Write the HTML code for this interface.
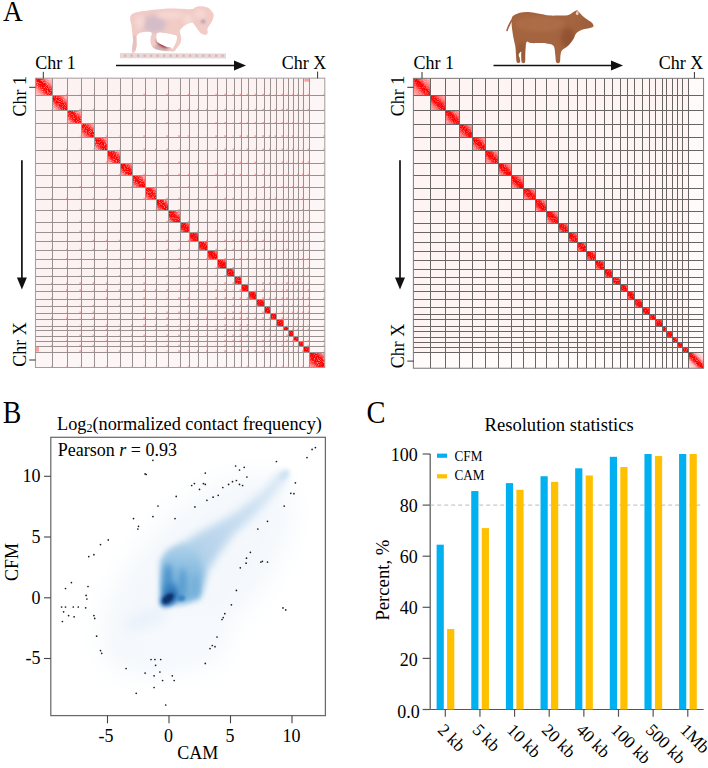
<!DOCTYPE html><html><head><meta charset="utf-8"><style>html,body{margin:0;padding:0;background:#fff;}svg{display:block;}text{font-family:"Liberation Serif",serif;fill:#000;}</style></head><body>
<svg width="708" height="768" viewBox="0 0 708 768">
<defs>
<linearGradient id="gL" x1="0" y1="1" x2="1" y2="0">
<stop offset="0" stop-color="#fbc0c0"/><stop offset="0.12" stop-color="#f88"/><stop offset="0.24" stop-color="#f33"/><stop offset="0.34" stop-color="#f00"/><stop offset="0.66" stop-color="#f00"/><stop offset="0.76" stop-color="#f33"/><stop offset="0.88" stop-color="#f88"/><stop offset="1" stop-color="#fbc0c0"/>
</linearGradient>
<linearGradient id="gR" x1="0" y1="1" x2="1" y2="0">
<stop offset="0" stop-color="#fde0e0"/><stop offset="0.3" stop-color="#fbb"/><stop offset="0.44" stop-color="#f55"/><stop offset="0.5" stop-color="#f00"/><stop offset="0.56" stop-color="#f55"/><stop offset="0.7" stop-color="#fbb"/><stop offset="1" stop-color="#fde0e0"/>
</linearGradient>
<linearGradient id="gRX" x1="0" y1="1" x2="1" y2="0">
<stop offset="0" stop-color="#fdf0f0"/><stop offset="0.4" stop-color="#fcd"/><stop offset="0.47" stop-color="#f44"/><stop offset="0.5" stop-color="#f00"/><stop offset="0.53" stop-color="#f44"/><stop offset="0.6" stop-color="#fcd"/><stop offset="1" stop-color="#fdf0f0"/>
</linearGradient>
<filter id="speck" x="0" y="0" width="100%" height="100%" filterUnits="objectBoundingBox"><feTurbulence type="fractalNoise" baseFrequency="0.9" numOctaves="2" seed="7" result="n"/><feColorMatrix in="n" type="matrix" values="0 0 0 0 1  0 0 0 0 0.85  0 0 0 0 0.85  0 0 0 -3.2 1.75" result="w"/><feComposite in="w" in2="SourceGraphic" operator="in"/></filter>
<filter id="b2" x="-50%" y="-50%" width="200%" height="200%"><feGaussianBlur stdDeviation="2"/></filter>
<filter id="b4" x="-50%" y="-50%" width="200%" height="200%"><feGaussianBlur stdDeviation="4"/></filter>
<filter id="b8" x="-50%" y="-50%" width="200%" height="200%"><feGaussianBlur stdDeviation="8"/></filter>
<filter id="b14" x="-50%" y="-50%" width="200%" height="200%"><feGaussianBlur stdDeviation="14"/></filter>
<filter id="b1" x="-50%" y="-50%" width="200%" height="200%"><feGaussianBlur stdDeviation="0.8"/></filter>
<marker id="ah" viewBox="0 0 12 10" refX="11" refY="5" markerWidth="12" markerHeight="10" markerUnits="userSpaceOnUse" orient="auto"><path d="M0,0 L12,5 L0,10 L3,5 Z" fill="#111"/></marker>
</defs>
<rect width="708" height="768" fill="#fff"/>
<text transform="translate(2.9,21) scale(0.9,1)" font-size="30.3">A</text>
<g transform="translate(35.45,78.16)">
<rect x="0" y="0" width="289.36" height="289.34" fill="#fdf2f2"/>
<path d="M15.6,107.9h1.8v1.8h-1.8zM15.6,119.5h1.8v1.8h-1.8zM15.6,161.5h1.8v1.8h-1.8zM15.6,170.5h1.8v1.8h-1.8zM15.6,179.9h1.8v1.8h-1.8zM15.6,204.1h1.8v1.8h-1.8zM15.6,211.1h1.8v1.8h-1.8zM15.6,219.0h1.8v1.8h-1.8zM15.6,239.2h1.8v1.8h-1.8zM15.6,250.7h1.8v1.8h-1.8zM15.6,261.5h1.8v1.8h-1.8zM15.6,266.5h1.8v1.8h-1.8zM15.6,287.4h1.8v1.8h-1.8zM30.6,15.6h1.8v1.8h-1.8zM30.6,70.3h1.8v1.8h-1.8zM30.6,119.5h1.8v1.8h-1.8zM30.6,170.5h1.8v1.8h-1.8zM30.6,179.9h1.8v1.8h-1.8zM30.6,188.8h1.8v1.8h-1.8zM30.6,196.9h1.8v1.8h-1.8zM30.6,204.1h1.8v1.8h-1.8zM30.6,211.1h1.8v1.8h-1.8zM30.6,226.7h1.8v1.8h-1.8zM30.6,239.2h1.8v1.8h-1.8zM30.6,246.0h1.8v1.8h-1.8zM30.6,256.4h1.8v1.8h-1.8zM30.6,261.5h1.8v1.8h-1.8zM30.6,266.5h1.8v1.8h-1.8zM30.6,287.4h1.8v1.8h-1.8zM43.9,30.5h1.8v1.8h-1.8zM43.9,83.3h1.8v1.8h-1.8zM43.9,107.9h1.8v1.8h-1.8zM43.9,130.9h1.8v1.8h-1.8zM43.9,142.7h1.8v1.8h-1.8zM43.9,152.3h1.8v1.8h-1.8zM43.9,170.5h1.8v1.8h-1.8zM43.9,204.1h1.8v1.8h-1.8zM43.9,211.1h1.8v1.8h-1.8zM43.9,233.4h1.8v1.8h-1.8zM43.9,256.4h1.8v1.8h-1.8zM43.9,266.5h1.8v1.8h-1.8zM43.9,272.1h1.8v1.8h-1.8zM57.1,30.5h1.8v1.8h-1.8zM57.1,83.3h1.8v1.8h-1.8zM57.1,95.5h1.8v1.8h-1.8zM57.1,107.9h1.8v1.8h-1.8zM57.1,119.5h1.8v1.8h-1.8zM57.1,130.9h1.8v1.8h-1.8zM57.1,161.5h1.8v1.8h-1.8zM57.1,170.5h1.8v1.8h-1.8zM57.1,196.9h1.8v1.8h-1.8zM57.1,204.1h1.8v1.8h-1.8zM57.1,226.7h1.8v1.8h-1.8zM57.1,233.4h1.8v1.8h-1.8zM57.1,239.2h1.8v1.8h-1.8zM57.1,250.7h1.8v1.8h-1.8zM57.1,256.4h1.8v1.8h-1.8zM57.1,266.5h1.8v1.8h-1.8zM70.3,43.9h1.8v1.8h-1.8zM70.3,57.1h1.8v1.8h-1.8zM70.3,83.3h1.8v1.8h-1.8zM70.3,107.9h1.8v1.8h-1.8zM70.3,119.5h1.8v1.8h-1.8zM70.3,161.5h1.8v1.8h-1.8zM70.3,170.5h1.8v1.8h-1.8zM70.3,188.8h1.8v1.8h-1.8zM70.3,196.9h1.8v1.8h-1.8zM70.3,204.1h1.8v1.8h-1.8zM70.3,211.1h1.8v1.8h-1.8zM70.3,219.0h1.8v1.8h-1.8zM70.3,246.0h1.8v1.8h-1.8zM70.3,250.7h1.8v1.8h-1.8zM70.3,256.4h1.8v1.8h-1.8zM70.3,261.5h1.8v1.8h-1.8zM70.3,287.4h1.8v1.8h-1.8zM83.3,95.5h1.8v1.8h-1.8zM83.3,119.5h1.8v1.8h-1.8zM83.3,130.9h1.8v1.8h-1.8zM83.3,161.5h1.8v1.8h-1.8zM83.3,196.9h1.8v1.8h-1.8zM83.3,211.1h1.8v1.8h-1.8zM83.3,226.7h1.8v1.8h-1.8zM83.3,250.7h1.8v1.8h-1.8zM83.3,272.1h1.8v1.8h-1.8zM95.5,107.9h1.8v1.8h-1.8zM95.5,142.7h1.8v1.8h-1.8zM95.5,179.9h1.8v1.8h-1.8zM95.5,211.1h1.8v1.8h-1.8zM95.5,246.0h1.8v1.8h-1.8zM95.5,250.7h1.8v1.8h-1.8zM95.5,256.4h1.8v1.8h-1.8zM95.5,266.5h1.8v1.8h-1.8zM107.9,15.6h1.8v1.8h-1.8zM107.9,30.5h1.8v1.8h-1.8zM107.9,43.9h1.8v1.8h-1.8zM107.9,57.1h1.8v1.8h-1.8zM107.9,70.3h1.8v1.8h-1.8zM107.9,83.3h1.8v1.8h-1.8zM107.9,95.5h1.8v1.8h-1.8zM107.9,119.5h1.8v1.8h-1.8zM107.9,130.9h1.8v1.8h-1.8zM107.9,142.7h1.8v1.8h-1.8zM107.9,152.3h1.8v1.8h-1.8zM107.9,179.9h1.8v1.8h-1.8zM107.9,196.9h1.8v1.8h-1.8zM107.9,204.1h1.8v1.8h-1.8zM107.9,211.1h1.8v1.8h-1.8zM107.9,219.0h1.8v1.8h-1.8zM107.9,226.7h1.8v1.8h-1.8zM107.9,239.2h1.8v1.8h-1.8zM107.9,246.0h1.8v1.8h-1.8zM107.9,256.4h1.8v1.8h-1.8zM107.9,266.5h1.8v1.8h-1.8zM119.5,30.5h1.8v1.8h-1.8zM119.5,70.3h1.8v1.8h-1.8zM119.5,83.3h1.8v1.8h-1.8zM119.5,161.5h1.8v1.8h-1.8zM119.5,179.9h1.8v1.8h-1.8zM119.5,188.8h1.8v1.8h-1.8zM119.5,211.1h1.8v1.8h-1.8zM119.5,233.4h1.8v1.8h-1.8zM119.5,239.2h1.8v1.8h-1.8zM119.5,246.0h1.8v1.8h-1.8zM119.5,250.7h1.8v1.8h-1.8zM119.5,261.5h1.8v1.8h-1.8zM130.9,15.6h1.8v1.8h-1.8zM130.9,43.9h1.8v1.8h-1.8zM130.9,57.1h1.8v1.8h-1.8zM130.9,70.3h1.8v1.8h-1.8zM130.9,95.5h1.8v1.8h-1.8zM130.9,107.9h1.8v1.8h-1.8zM130.9,119.5h1.8v1.8h-1.8zM130.9,142.7h1.8v1.8h-1.8zM130.9,161.5h1.8v1.8h-1.8zM130.9,170.5h1.8v1.8h-1.8zM130.9,196.9h1.8v1.8h-1.8zM130.9,211.1h1.8v1.8h-1.8zM130.9,233.4h1.8v1.8h-1.8zM130.9,239.2h1.8v1.8h-1.8zM130.9,246.0h1.8v1.8h-1.8zM130.9,256.4h1.8v1.8h-1.8zM130.9,266.5h1.8v1.8h-1.8zM142.7,30.5h1.8v1.8h-1.8zM142.7,57.1h1.8v1.8h-1.8zM142.7,83.3h1.8v1.8h-1.8zM142.7,95.5h1.8v1.8h-1.8zM142.7,119.5h1.8v1.8h-1.8zM142.7,130.9h1.8v1.8h-1.8zM142.7,170.5h1.8v1.8h-1.8zM142.7,179.9h1.8v1.8h-1.8zM142.7,188.8h1.8v1.8h-1.8zM142.7,219.0h1.8v1.8h-1.8zM142.7,233.4h1.8v1.8h-1.8zM142.7,256.4h1.8v1.8h-1.8zM142.7,266.5h1.8v1.8h-1.8zM142.7,272.1h1.8v1.8h-1.8zM152.3,15.6h1.8v1.8h-1.8zM152.3,30.5h1.8v1.8h-1.8zM152.3,57.1h1.8v1.8h-1.8zM152.3,95.5h1.8v1.8h-1.8zM152.3,107.9h1.8v1.8h-1.8zM152.3,142.7h1.8v1.8h-1.8zM152.3,161.5h1.8v1.8h-1.8zM152.3,179.9h1.8v1.8h-1.8zM152.3,188.8h1.8v1.8h-1.8zM152.3,196.9h1.8v1.8h-1.8zM152.3,219.0h1.8v1.8h-1.8zM152.3,226.7h1.8v1.8h-1.8zM152.3,250.7h1.8v1.8h-1.8zM152.3,287.4h1.8v1.8h-1.8zM161.5,30.5h1.8v1.8h-1.8zM161.5,83.3h1.8v1.8h-1.8zM161.5,95.5h1.8v1.8h-1.8zM161.5,119.5h1.8v1.8h-1.8zM161.5,142.7h1.8v1.8h-1.8zM161.5,152.3h1.8v1.8h-1.8zM161.5,179.9h1.8v1.8h-1.8zM161.5,188.8h1.8v1.8h-1.8zM161.5,196.9h1.8v1.8h-1.8zM161.5,204.1h1.8v1.8h-1.8zM161.5,211.1h1.8v1.8h-1.8zM161.5,239.2h1.8v1.8h-1.8zM161.5,246.0h1.8v1.8h-1.8zM161.5,250.7h1.8v1.8h-1.8zM161.5,261.5h1.8v1.8h-1.8zM161.5,272.1h1.8v1.8h-1.8zM161.5,287.4h1.8v1.8h-1.8zM170.6,30.5h1.8v1.8h-1.8zM170.6,107.9h1.8v1.8h-1.8zM170.6,130.9h1.8v1.8h-1.8zM170.6,161.5h1.8v1.8h-1.8zM170.6,179.9h1.8v1.8h-1.8zM170.6,188.8h1.8v1.8h-1.8zM170.6,204.1h1.8v1.8h-1.8zM170.6,226.7h1.8v1.8h-1.8zM170.6,239.2h1.8v1.8h-1.8zM170.6,246.0h1.8v1.8h-1.8zM170.6,256.4h1.8v1.8h-1.8zM170.6,266.5h1.8v1.8h-1.8zM170.6,272.1h1.8v1.8h-1.8zM179.9,15.6h1.8v1.8h-1.8zM179.9,43.9h1.8v1.8h-1.8zM179.9,57.1h1.8v1.8h-1.8zM179.9,95.5h1.8v1.8h-1.8zM179.9,107.9h1.8v1.8h-1.8zM179.9,152.3h1.8v1.8h-1.8zM179.9,170.5h1.8v1.8h-1.8zM179.9,188.8h1.8v1.8h-1.8zM179.9,196.9h1.8v1.8h-1.8zM179.9,211.1h1.8v1.8h-1.8zM179.9,219.0h1.8v1.8h-1.8zM179.9,226.7h1.8v1.8h-1.8zM179.9,250.7h1.8v1.8h-1.8zM188.8,15.6h1.8v1.8h-1.8zM188.8,30.5h1.8v1.8h-1.8zM188.8,43.9h1.8v1.8h-1.8zM188.8,57.1h1.8v1.8h-1.8zM188.8,70.3h1.8v1.8h-1.8zM188.8,95.5h1.8v1.8h-1.8zM188.8,119.5h1.8v1.8h-1.8zM188.8,130.9h1.8v1.8h-1.8zM188.8,161.5h1.8v1.8h-1.8zM188.8,170.5h1.8v1.8h-1.8zM188.8,179.9h1.8v1.8h-1.8zM188.8,196.9h1.8v1.8h-1.8zM188.8,204.1h1.8v1.8h-1.8zM188.8,211.1h1.8v1.8h-1.8zM188.8,219.0h1.8v1.8h-1.8zM188.8,233.4h1.8v1.8h-1.8zM188.8,239.2h1.8v1.8h-1.8zM188.8,246.0h1.8v1.8h-1.8zM188.8,250.7h1.8v1.8h-1.8zM188.8,256.4h1.8v1.8h-1.8zM188.8,261.5h1.8v1.8h-1.8zM188.8,266.5h1.8v1.8h-1.8zM188.8,272.1h1.8v1.8h-1.8zM196.9,15.6h1.8v1.8h-1.8zM196.9,70.3h1.8v1.8h-1.8zM196.9,95.5h1.8v1.8h-1.8zM196.9,119.5h1.8v1.8h-1.8zM196.9,152.3h1.8v1.8h-1.8zM196.9,161.5h1.8v1.8h-1.8zM196.9,170.5h1.8v1.8h-1.8zM196.9,179.9h1.8v1.8h-1.8zM196.9,188.8h1.8v1.8h-1.8zM196.9,204.1h1.8v1.8h-1.8zM196.9,219.0h1.8v1.8h-1.8zM196.9,226.7h1.8v1.8h-1.8zM196.9,233.4h1.8v1.8h-1.8zM196.9,239.2h1.8v1.8h-1.8zM196.9,256.4h1.8v1.8h-1.8zM196.9,261.5h1.8v1.8h-1.8zM204.1,15.6h1.8v1.8h-1.8zM204.1,43.9h1.8v1.8h-1.8zM204.1,57.1h1.8v1.8h-1.8zM204.1,83.3h1.8v1.8h-1.8zM204.1,95.5h1.8v1.8h-1.8zM204.1,142.7h1.8v1.8h-1.8zM204.1,152.3h1.8v1.8h-1.8zM204.1,161.5h1.8v1.8h-1.8zM204.1,179.9h1.8v1.8h-1.8zM204.1,196.9h1.8v1.8h-1.8zM204.1,211.1h1.8v1.8h-1.8zM204.1,219.0h1.8v1.8h-1.8zM204.1,226.7h1.8v1.8h-1.8zM204.1,233.4h1.8v1.8h-1.8zM204.1,239.2h1.8v1.8h-1.8zM204.1,246.0h1.8v1.8h-1.8zM204.1,250.7h1.8v1.8h-1.8zM204.1,256.4h1.8v1.8h-1.8zM204.1,261.5h1.8v1.8h-1.8zM204.1,272.1h1.8v1.8h-1.8zM211.1,15.6h1.8v1.8h-1.8zM211.1,43.9h1.8v1.8h-1.8zM211.1,57.1h1.8v1.8h-1.8zM211.1,70.3h1.8v1.8h-1.8zM211.1,130.9h1.8v1.8h-1.8zM211.1,142.7h1.8v1.8h-1.8zM211.1,161.5h1.8v1.8h-1.8zM211.1,179.9h1.8v1.8h-1.8zM211.1,219.0h1.8v1.8h-1.8zM211.1,226.7h1.8v1.8h-1.8zM211.1,239.2h1.8v1.8h-1.8zM211.1,246.0h1.8v1.8h-1.8zM211.1,250.7h1.8v1.8h-1.8zM211.1,256.4h1.8v1.8h-1.8zM211.1,272.1h1.8v1.8h-1.8zM211.1,287.4h1.8v1.8h-1.8zM219.0,15.6h1.8v1.8h-1.8zM219.0,30.5h1.8v1.8h-1.8zM219.0,43.9h1.8v1.8h-1.8zM219.0,57.1h1.8v1.8h-1.8zM219.0,83.3h1.8v1.8h-1.8zM219.0,95.5h1.8v1.8h-1.8zM219.0,119.5h1.8v1.8h-1.8zM219.0,130.9h1.8v1.8h-1.8zM219.0,142.7h1.8v1.8h-1.8zM219.0,152.3h1.8v1.8h-1.8zM219.0,161.5h1.8v1.8h-1.8zM219.0,170.5h1.8v1.8h-1.8zM219.0,179.9h1.8v1.8h-1.8zM219.0,239.2h1.8v1.8h-1.8zM219.0,272.1h1.8v1.8h-1.8zM226.7,15.6h1.8v1.8h-1.8zM226.7,30.5h1.8v1.8h-1.8zM226.7,43.9h1.8v1.8h-1.8zM226.7,57.1h1.8v1.8h-1.8zM226.7,70.3h1.8v1.8h-1.8zM226.7,95.5h1.8v1.8h-1.8zM226.7,107.9h1.8v1.8h-1.8zM226.7,142.7h1.8v1.8h-1.8zM226.7,152.3h1.8v1.8h-1.8zM226.7,161.5h1.8v1.8h-1.8zM226.7,170.5h1.8v1.8h-1.8zM226.7,204.1h1.8v1.8h-1.8zM226.7,211.1h1.8v1.8h-1.8zM226.7,219.0h1.8v1.8h-1.8zM226.7,233.4h1.8v1.8h-1.8zM226.7,239.2h1.8v1.8h-1.8zM226.7,261.5h1.8v1.8h-1.8zM226.7,272.1h1.8v1.8h-1.8zM233.4,15.6h1.8v1.8h-1.8zM233.4,57.1h1.8v1.8h-1.8zM233.4,70.3h1.8v1.8h-1.8zM233.4,95.5h1.8v1.8h-1.8zM233.4,107.9h1.8v1.8h-1.8zM233.4,119.5h1.8v1.8h-1.8zM233.4,179.9h1.8v1.8h-1.8zM233.4,196.9h1.8v1.8h-1.8zM233.4,204.1h1.8v1.8h-1.8zM233.4,219.0h1.8v1.8h-1.8zM233.4,239.2h1.8v1.8h-1.8zM233.4,250.7h1.8v1.8h-1.8zM233.4,256.4h1.8v1.8h-1.8zM233.4,261.5h1.8v1.8h-1.8zM233.4,266.5h1.8v1.8h-1.8zM233.4,287.4h1.8v1.8h-1.8zM239.2,30.5h1.8v1.8h-1.8zM239.2,43.9h1.8v1.8h-1.8zM239.2,57.1h1.8v1.8h-1.8zM239.2,119.5h1.8v1.8h-1.8zM239.2,130.9h1.8v1.8h-1.8zM239.2,152.3h1.8v1.8h-1.8zM239.2,161.5h1.8v1.8h-1.8zM239.2,170.5h1.8v1.8h-1.8zM239.2,179.9h1.8v1.8h-1.8zM239.2,204.1h1.8v1.8h-1.8zM239.2,219.0h1.8v1.8h-1.8zM239.2,256.4h1.8v1.8h-1.8zM239.2,261.5h1.8v1.8h-1.8zM239.2,287.4h1.8v1.8h-1.8zM246.1,15.6h1.8v1.8h-1.8zM246.1,30.5h1.8v1.8h-1.8zM246.1,43.9h1.8v1.8h-1.8zM246.1,57.1h1.8v1.8h-1.8zM246.1,70.3h1.8v1.8h-1.8zM246.1,83.3h1.8v1.8h-1.8zM246.1,107.9h1.8v1.8h-1.8zM246.1,188.8h1.8v1.8h-1.8zM246.1,219.0h1.8v1.8h-1.8zM246.1,226.7h1.8v1.8h-1.8zM246.1,233.4h1.8v1.8h-1.8zM246.1,239.2h1.8v1.8h-1.8zM246.1,266.5h1.8v1.8h-1.8zM246.1,287.4h1.8v1.8h-1.8zM250.7,30.5h1.8v1.8h-1.8zM250.7,142.7h1.8v1.8h-1.8zM250.7,170.5h1.8v1.8h-1.8zM250.7,196.9h1.8v1.8h-1.8zM250.7,204.1h1.8v1.8h-1.8zM250.7,211.1h1.8v1.8h-1.8zM250.7,219.0h1.8v1.8h-1.8zM250.7,256.4h1.8v1.8h-1.8zM250.7,261.5h1.8v1.8h-1.8zM256.5,15.6h1.8v1.8h-1.8zM256.5,43.9h1.8v1.8h-1.8zM256.5,57.1h1.8v1.8h-1.8zM256.5,70.3h1.8v1.8h-1.8zM256.5,107.9h1.8v1.8h-1.8zM256.5,142.7h1.8v1.8h-1.8zM256.5,152.3h1.8v1.8h-1.8zM256.5,196.9h1.8v1.8h-1.8zM256.5,204.1h1.8v1.8h-1.8zM256.5,226.7h1.8v1.8h-1.8zM256.5,233.4h1.8v1.8h-1.8zM256.5,250.7h1.8v1.8h-1.8zM256.5,261.5h1.8v1.8h-1.8zM256.5,266.5h1.8v1.8h-1.8zM261.5,15.6h1.8v1.8h-1.8zM261.5,30.5h1.8v1.8h-1.8zM261.5,95.5h1.8v1.8h-1.8zM261.5,107.9h1.8v1.8h-1.8zM261.5,142.7h1.8v1.8h-1.8zM261.5,179.9h1.8v1.8h-1.8zM261.5,204.1h1.8v1.8h-1.8zM261.5,211.1h1.8v1.8h-1.8zM261.5,219.0h1.8v1.8h-1.8zM261.5,226.7h1.8v1.8h-1.8zM261.5,233.4h1.8v1.8h-1.8zM261.5,239.2h1.8v1.8h-1.8zM261.5,250.7h1.8v1.8h-1.8zM266.5,83.3h1.8v1.8h-1.8zM266.5,95.5h1.8v1.8h-1.8zM266.5,107.9h1.8v1.8h-1.8zM266.5,119.5h1.8v1.8h-1.8zM266.5,130.9h1.8v1.8h-1.8zM266.5,142.7h1.8v1.8h-1.8zM266.5,170.5h1.8v1.8h-1.8zM266.5,179.9h1.8v1.8h-1.8zM266.5,196.9h1.8v1.8h-1.8zM266.5,204.1h1.8v1.8h-1.8zM266.5,219.0h1.8v1.8h-1.8zM266.5,233.4h1.8v1.8h-1.8zM266.5,250.7h1.8v1.8h-1.8zM266.5,272.1h1.8v1.8h-1.8zM266.5,287.4h1.8v1.8h-1.8zM272.2,15.6h1.8v1.8h-1.8zM272.2,30.5h1.8v1.8h-1.8zM272.2,70.3h1.8v1.8h-1.8zM272.2,83.3h1.8v1.8h-1.8zM272.2,95.5h1.8v1.8h-1.8zM272.2,142.7h1.8v1.8h-1.8zM272.2,152.3h1.8v1.8h-1.8zM272.2,179.9h1.8v1.8h-1.8zM272.2,188.8h1.8v1.8h-1.8zM272.2,196.9h1.8v1.8h-1.8zM272.2,211.1h1.8v1.8h-1.8zM272.2,219.0h1.8v1.8h-1.8zM272.2,226.7h1.8v1.8h-1.8zM272.2,233.4h1.8v1.8h-1.8zM272.2,250.7h1.8v1.8h-1.8zM272.2,261.5h1.8v1.8h-1.8zM272.2,266.5h1.8v1.8h-1.8zM287.5,15.6h1.8v1.8h-1.8zM287.5,43.9h1.8v1.8h-1.8zM287.5,57.1h1.8v1.8h-1.8zM287.5,70.3h1.8v1.8h-1.8zM287.5,83.3h1.8v1.8h-1.8zM287.5,95.5h1.8v1.8h-1.8zM287.5,119.5h1.8v1.8h-1.8zM287.5,130.9h1.8v1.8h-1.8zM287.5,152.3h1.8v1.8h-1.8zM287.5,161.5h1.8v1.8h-1.8zM287.5,170.5h1.8v1.8h-1.8zM287.5,179.9h1.8v1.8h-1.8zM287.5,211.1h1.8v1.8h-1.8zM287.5,219.0h1.8v1.8h-1.8zM287.5,233.4h1.8v1.8h-1.8zM287.5,261.5h1.8v1.8h-1.8zM287.5,266.5h1.8v1.8h-1.8z" fill="#f44" opacity="0.45"/>
<path d="M15.6,30.5h1.8v1.8h-1.8zM15.6,43.9h1.8v1.8h-1.8zM15.6,57.1h1.8v1.8h-1.8zM15.6,70.3h1.8v1.8h-1.8zM15.6,83.3h1.8v1.8h-1.8zM15.6,95.5h1.8v1.8h-1.8zM15.6,130.9h1.8v1.8h-1.8zM15.6,142.7h1.8v1.8h-1.8zM15.6,152.3h1.8v1.8h-1.8zM15.6,188.8h1.8v1.8h-1.8zM15.6,196.9h1.8v1.8h-1.8zM15.6,226.7h1.8v1.8h-1.8zM15.6,233.4h1.8v1.8h-1.8zM15.6,246.0h1.8v1.8h-1.8zM15.6,256.4h1.8v1.8h-1.8zM15.6,272.1h1.8v1.8h-1.8zM30.6,43.9h1.8v1.8h-1.8zM30.6,57.1h1.8v1.8h-1.8zM30.6,83.3h1.8v1.8h-1.8zM30.6,95.5h1.8v1.8h-1.8zM30.6,107.9h1.8v1.8h-1.8zM30.6,130.9h1.8v1.8h-1.8zM30.6,142.7h1.8v1.8h-1.8zM30.6,152.3h1.8v1.8h-1.8zM30.6,161.5h1.8v1.8h-1.8zM30.6,219.0h1.8v1.8h-1.8zM30.6,233.4h1.8v1.8h-1.8zM30.6,250.7h1.8v1.8h-1.8zM30.6,272.1h1.8v1.8h-1.8zM43.9,15.6h1.8v1.8h-1.8zM43.9,57.1h1.8v1.8h-1.8zM43.9,70.3h1.8v1.8h-1.8zM43.9,95.5h1.8v1.8h-1.8zM43.9,119.5h1.8v1.8h-1.8zM43.9,161.5h1.8v1.8h-1.8zM43.9,179.9h1.8v1.8h-1.8zM43.9,188.8h1.8v1.8h-1.8zM43.9,196.9h1.8v1.8h-1.8zM43.9,219.0h1.8v1.8h-1.8zM43.9,226.7h1.8v1.8h-1.8zM43.9,239.2h1.8v1.8h-1.8zM43.9,246.0h1.8v1.8h-1.8zM43.9,250.7h1.8v1.8h-1.8zM43.9,261.5h1.8v1.8h-1.8zM43.9,287.4h1.8v1.8h-1.8zM57.1,15.6h1.8v1.8h-1.8zM57.1,43.9h1.8v1.8h-1.8zM57.1,70.3h1.8v1.8h-1.8zM57.1,142.7h1.8v1.8h-1.8zM57.1,152.3h1.8v1.8h-1.8zM57.1,179.9h1.8v1.8h-1.8zM57.1,188.8h1.8v1.8h-1.8zM57.1,211.1h1.8v1.8h-1.8zM57.1,219.0h1.8v1.8h-1.8zM57.1,246.0h1.8v1.8h-1.8zM57.1,261.5h1.8v1.8h-1.8zM57.1,272.1h1.8v1.8h-1.8zM57.1,287.4h1.8v1.8h-1.8zM70.3,15.6h1.8v1.8h-1.8zM70.3,30.5h1.8v1.8h-1.8zM70.3,95.5h1.8v1.8h-1.8zM70.3,130.9h1.8v1.8h-1.8zM70.3,142.7h1.8v1.8h-1.8zM70.3,152.3h1.8v1.8h-1.8zM70.3,179.9h1.8v1.8h-1.8zM70.3,226.7h1.8v1.8h-1.8zM70.3,233.4h1.8v1.8h-1.8zM70.3,239.2h1.8v1.8h-1.8zM70.3,266.5h1.8v1.8h-1.8zM70.3,272.1h1.8v1.8h-1.8zM83.3,15.6h1.8v1.8h-1.8zM83.3,30.5h1.8v1.8h-1.8zM83.3,43.9h1.8v1.8h-1.8zM83.3,57.1h1.8v1.8h-1.8zM83.3,70.3h1.8v1.8h-1.8zM83.3,107.9h1.8v1.8h-1.8zM83.3,142.7h1.8v1.8h-1.8zM83.3,152.3h1.8v1.8h-1.8zM83.3,170.5h1.8v1.8h-1.8zM83.3,179.9h1.8v1.8h-1.8zM83.3,188.8h1.8v1.8h-1.8zM83.3,204.1h1.8v1.8h-1.8zM83.3,219.0h1.8v1.8h-1.8zM83.3,233.4h1.8v1.8h-1.8zM83.3,239.2h1.8v1.8h-1.8zM83.3,246.0h1.8v1.8h-1.8zM83.3,256.4h1.8v1.8h-1.8zM83.3,261.5h1.8v1.8h-1.8zM83.3,266.5h1.8v1.8h-1.8zM83.3,287.4h1.8v1.8h-1.8zM95.5,15.6h1.8v1.8h-1.8zM95.5,30.5h1.8v1.8h-1.8zM95.5,43.9h1.8v1.8h-1.8zM95.5,57.1h1.8v1.8h-1.8zM95.5,70.3h1.8v1.8h-1.8zM95.5,83.3h1.8v1.8h-1.8zM95.5,119.5h1.8v1.8h-1.8zM95.5,130.9h1.8v1.8h-1.8zM95.5,152.3h1.8v1.8h-1.8zM95.5,161.5h1.8v1.8h-1.8zM95.5,170.5h1.8v1.8h-1.8zM95.5,188.8h1.8v1.8h-1.8zM95.5,196.9h1.8v1.8h-1.8zM95.5,204.1h1.8v1.8h-1.8zM95.5,219.0h1.8v1.8h-1.8zM95.5,226.7h1.8v1.8h-1.8zM95.5,233.4h1.8v1.8h-1.8zM95.5,239.2h1.8v1.8h-1.8zM95.5,261.5h1.8v1.8h-1.8zM95.5,272.1h1.8v1.8h-1.8zM95.5,287.4h1.8v1.8h-1.8zM107.9,161.5h1.8v1.8h-1.8zM107.9,170.5h1.8v1.8h-1.8zM107.9,188.8h1.8v1.8h-1.8zM107.9,233.4h1.8v1.8h-1.8zM107.9,250.7h1.8v1.8h-1.8zM107.9,261.5h1.8v1.8h-1.8zM107.9,272.1h1.8v1.8h-1.8zM107.9,287.4h1.8v1.8h-1.8zM119.5,15.6h1.8v1.8h-1.8zM119.5,43.9h1.8v1.8h-1.8zM119.5,57.1h1.8v1.8h-1.8zM119.5,95.5h1.8v1.8h-1.8zM119.5,107.9h1.8v1.8h-1.8zM119.5,130.9h1.8v1.8h-1.8zM119.5,142.7h1.8v1.8h-1.8zM119.5,152.3h1.8v1.8h-1.8zM119.5,170.5h1.8v1.8h-1.8zM119.5,196.9h1.8v1.8h-1.8zM119.5,204.1h1.8v1.8h-1.8zM119.5,219.0h1.8v1.8h-1.8zM119.5,226.7h1.8v1.8h-1.8zM119.5,256.4h1.8v1.8h-1.8zM119.5,266.5h1.8v1.8h-1.8zM119.5,272.1h1.8v1.8h-1.8zM119.5,287.4h1.8v1.8h-1.8zM130.9,30.5h1.8v1.8h-1.8zM130.9,83.3h1.8v1.8h-1.8zM130.9,152.3h1.8v1.8h-1.8zM130.9,179.9h1.8v1.8h-1.8zM130.9,188.8h1.8v1.8h-1.8zM130.9,204.1h1.8v1.8h-1.8zM130.9,219.0h1.8v1.8h-1.8zM130.9,226.7h1.8v1.8h-1.8zM130.9,250.7h1.8v1.8h-1.8zM130.9,261.5h1.8v1.8h-1.8zM130.9,272.1h1.8v1.8h-1.8zM130.9,287.4h1.8v1.8h-1.8zM142.7,15.6h1.8v1.8h-1.8zM142.7,43.9h1.8v1.8h-1.8zM142.7,70.3h1.8v1.8h-1.8zM142.7,107.9h1.8v1.8h-1.8zM142.7,152.3h1.8v1.8h-1.8zM142.7,161.5h1.8v1.8h-1.8zM142.7,196.9h1.8v1.8h-1.8zM142.7,204.1h1.8v1.8h-1.8zM142.7,211.1h1.8v1.8h-1.8zM142.7,226.7h1.8v1.8h-1.8zM142.7,239.2h1.8v1.8h-1.8zM142.7,246.0h1.8v1.8h-1.8zM142.7,250.7h1.8v1.8h-1.8zM142.7,261.5h1.8v1.8h-1.8zM142.7,287.4h1.8v1.8h-1.8zM152.3,43.9h1.8v1.8h-1.8zM152.3,70.3h1.8v1.8h-1.8zM152.3,83.3h1.8v1.8h-1.8zM152.3,119.5h1.8v1.8h-1.8zM152.3,130.9h1.8v1.8h-1.8zM152.3,170.5h1.8v1.8h-1.8zM152.3,204.1h1.8v1.8h-1.8zM152.3,211.1h1.8v1.8h-1.8zM152.3,233.4h1.8v1.8h-1.8zM152.3,239.2h1.8v1.8h-1.8zM152.3,246.0h1.8v1.8h-1.8zM152.3,256.4h1.8v1.8h-1.8zM152.3,261.5h1.8v1.8h-1.8zM152.3,266.5h1.8v1.8h-1.8zM152.3,272.1h1.8v1.8h-1.8zM161.5,15.6h1.8v1.8h-1.8zM161.5,43.9h1.8v1.8h-1.8zM161.5,57.1h1.8v1.8h-1.8zM161.5,70.3h1.8v1.8h-1.8zM161.5,107.9h1.8v1.8h-1.8zM161.5,130.9h1.8v1.8h-1.8zM161.5,170.5h1.8v1.8h-1.8zM161.5,219.0h1.8v1.8h-1.8zM161.5,226.7h1.8v1.8h-1.8zM161.5,233.4h1.8v1.8h-1.8zM161.5,256.4h1.8v1.8h-1.8zM161.5,266.5h1.8v1.8h-1.8zM170.6,15.6h1.8v1.8h-1.8zM170.6,43.9h1.8v1.8h-1.8zM170.6,57.1h1.8v1.8h-1.8zM170.6,70.3h1.8v1.8h-1.8zM170.6,83.3h1.8v1.8h-1.8zM170.6,95.5h1.8v1.8h-1.8zM170.6,119.5h1.8v1.8h-1.8zM170.6,142.7h1.8v1.8h-1.8zM170.6,152.3h1.8v1.8h-1.8zM170.6,196.9h1.8v1.8h-1.8zM170.6,211.1h1.8v1.8h-1.8zM170.6,219.0h1.8v1.8h-1.8zM170.6,233.4h1.8v1.8h-1.8zM170.6,250.7h1.8v1.8h-1.8zM170.6,261.5h1.8v1.8h-1.8zM170.6,287.4h1.8v1.8h-1.8zM179.9,30.5h1.8v1.8h-1.8zM179.9,70.3h1.8v1.8h-1.8zM179.9,83.3h1.8v1.8h-1.8zM179.9,119.5h1.8v1.8h-1.8zM179.9,130.9h1.8v1.8h-1.8zM179.9,142.7h1.8v1.8h-1.8zM179.9,161.5h1.8v1.8h-1.8zM179.9,204.1h1.8v1.8h-1.8zM179.9,233.4h1.8v1.8h-1.8zM179.9,239.2h1.8v1.8h-1.8zM179.9,246.0h1.8v1.8h-1.8zM179.9,256.4h1.8v1.8h-1.8zM179.9,261.5h1.8v1.8h-1.8zM179.9,266.5h1.8v1.8h-1.8zM179.9,272.1h1.8v1.8h-1.8zM179.9,287.4h1.8v1.8h-1.8zM188.8,83.3h1.8v1.8h-1.8zM188.8,107.9h1.8v1.8h-1.8zM188.8,142.7h1.8v1.8h-1.8zM188.8,152.3h1.8v1.8h-1.8zM188.8,226.7h1.8v1.8h-1.8zM188.8,287.4h1.8v1.8h-1.8zM196.9,30.5h1.8v1.8h-1.8zM196.9,43.9h1.8v1.8h-1.8zM196.9,57.1h1.8v1.8h-1.8zM196.9,83.3h1.8v1.8h-1.8zM196.9,107.9h1.8v1.8h-1.8zM196.9,130.9h1.8v1.8h-1.8zM196.9,142.7h1.8v1.8h-1.8zM196.9,211.1h1.8v1.8h-1.8zM196.9,246.0h1.8v1.8h-1.8zM196.9,250.7h1.8v1.8h-1.8zM196.9,266.5h1.8v1.8h-1.8zM196.9,272.1h1.8v1.8h-1.8zM196.9,287.4h1.8v1.8h-1.8zM204.1,30.5h1.8v1.8h-1.8zM204.1,70.3h1.8v1.8h-1.8zM204.1,107.9h1.8v1.8h-1.8zM204.1,119.5h1.8v1.8h-1.8zM204.1,130.9h1.8v1.8h-1.8zM204.1,170.5h1.8v1.8h-1.8zM204.1,188.8h1.8v1.8h-1.8zM204.1,266.5h1.8v1.8h-1.8zM204.1,287.4h1.8v1.8h-1.8zM211.1,30.5h1.8v1.8h-1.8zM211.1,83.3h1.8v1.8h-1.8zM211.1,95.5h1.8v1.8h-1.8zM211.1,107.9h1.8v1.8h-1.8zM211.1,119.5h1.8v1.8h-1.8zM211.1,152.3h1.8v1.8h-1.8zM211.1,170.5h1.8v1.8h-1.8zM211.1,188.8h1.8v1.8h-1.8zM211.1,196.9h1.8v1.8h-1.8zM211.1,204.1h1.8v1.8h-1.8zM211.1,233.4h1.8v1.8h-1.8zM211.1,261.5h1.8v1.8h-1.8zM211.1,266.5h1.8v1.8h-1.8zM219.0,70.3h1.8v1.8h-1.8zM219.0,107.9h1.8v1.8h-1.8zM219.0,188.8h1.8v1.8h-1.8zM219.0,196.9h1.8v1.8h-1.8zM219.0,204.1h1.8v1.8h-1.8zM219.0,211.1h1.8v1.8h-1.8zM219.0,226.7h1.8v1.8h-1.8zM219.0,233.4h1.8v1.8h-1.8zM219.0,246.0h1.8v1.8h-1.8zM219.0,250.7h1.8v1.8h-1.8zM219.0,256.4h1.8v1.8h-1.8zM219.0,261.5h1.8v1.8h-1.8zM219.0,266.5h1.8v1.8h-1.8zM219.0,287.4h1.8v1.8h-1.8zM226.7,83.3h1.8v1.8h-1.8zM226.7,119.5h1.8v1.8h-1.8zM226.7,130.9h1.8v1.8h-1.8zM226.7,179.9h1.8v1.8h-1.8zM226.7,188.8h1.8v1.8h-1.8zM226.7,196.9h1.8v1.8h-1.8zM226.7,246.0h1.8v1.8h-1.8zM226.7,250.7h1.8v1.8h-1.8zM226.7,256.4h1.8v1.8h-1.8zM226.7,266.5h1.8v1.8h-1.8zM226.7,287.4h1.8v1.8h-1.8zM233.4,30.5h1.8v1.8h-1.8zM233.4,43.9h1.8v1.8h-1.8zM233.4,83.3h1.8v1.8h-1.8zM233.4,130.9h1.8v1.8h-1.8zM233.4,142.7h1.8v1.8h-1.8zM233.4,152.3h1.8v1.8h-1.8zM233.4,161.5h1.8v1.8h-1.8zM233.4,170.5h1.8v1.8h-1.8zM233.4,188.8h1.8v1.8h-1.8zM233.4,211.1h1.8v1.8h-1.8zM233.4,226.7h1.8v1.8h-1.8zM233.4,246.0h1.8v1.8h-1.8zM233.4,272.1h1.8v1.8h-1.8zM239.2,15.6h1.8v1.8h-1.8zM239.2,70.3h1.8v1.8h-1.8zM239.2,83.3h1.8v1.8h-1.8zM239.2,95.5h1.8v1.8h-1.8zM239.2,107.9h1.8v1.8h-1.8zM239.2,142.7h1.8v1.8h-1.8zM239.2,188.8h1.8v1.8h-1.8zM239.2,196.9h1.8v1.8h-1.8zM239.2,211.1h1.8v1.8h-1.8zM239.2,226.7h1.8v1.8h-1.8zM239.2,233.4h1.8v1.8h-1.8zM239.2,246.0h1.8v1.8h-1.8zM239.2,250.7h1.8v1.8h-1.8zM239.2,266.5h1.8v1.8h-1.8zM239.2,272.1h1.8v1.8h-1.8zM246.1,95.5h1.8v1.8h-1.8zM246.1,119.5h1.8v1.8h-1.8zM246.1,130.9h1.8v1.8h-1.8zM246.1,142.7h1.8v1.8h-1.8zM246.1,152.3h1.8v1.8h-1.8zM246.1,161.5h1.8v1.8h-1.8zM246.1,170.5h1.8v1.8h-1.8zM246.1,179.9h1.8v1.8h-1.8zM246.1,196.9h1.8v1.8h-1.8zM246.1,204.1h1.8v1.8h-1.8zM246.1,211.1h1.8v1.8h-1.8zM246.1,250.7h1.8v1.8h-1.8zM246.1,256.4h1.8v1.8h-1.8zM246.1,261.5h1.8v1.8h-1.8zM246.1,272.1h1.8v1.8h-1.8zM250.7,15.6h1.8v1.8h-1.8zM250.7,43.9h1.8v1.8h-1.8zM250.7,57.1h1.8v1.8h-1.8zM250.7,70.3h1.8v1.8h-1.8zM250.7,83.3h1.8v1.8h-1.8zM250.7,95.5h1.8v1.8h-1.8zM250.7,107.9h1.8v1.8h-1.8zM250.7,119.5h1.8v1.8h-1.8zM250.7,130.9h1.8v1.8h-1.8zM250.7,152.3h1.8v1.8h-1.8zM250.7,161.5h1.8v1.8h-1.8zM250.7,179.9h1.8v1.8h-1.8zM250.7,188.8h1.8v1.8h-1.8zM250.7,226.7h1.8v1.8h-1.8zM250.7,233.4h1.8v1.8h-1.8zM250.7,239.2h1.8v1.8h-1.8zM250.7,246.0h1.8v1.8h-1.8zM250.7,266.5h1.8v1.8h-1.8zM250.7,272.1h1.8v1.8h-1.8zM250.7,287.4h1.8v1.8h-1.8zM256.5,30.5h1.8v1.8h-1.8zM256.5,83.3h1.8v1.8h-1.8zM256.5,95.5h1.8v1.8h-1.8zM256.5,119.5h1.8v1.8h-1.8zM256.5,130.9h1.8v1.8h-1.8zM256.5,161.5h1.8v1.8h-1.8zM256.5,170.5h1.8v1.8h-1.8zM256.5,179.9h1.8v1.8h-1.8zM256.5,188.8h1.8v1.8h-1.8zM256.5,211.1h1.8v1.8h-1.8zM256.5,219.0h1.8v1.8h-1.8zM256.5,239.2h1.8v1.8h-1.8zM256.5,246.0h1.8v1.8h-1.8zM256.5,272.1h1.8v1.8h-1.8zM256.5,287.4h1.8v1.8h-1.8zM261.5,43.9h1.8v1.8h-1.8zM261.5,57.1h1.8v1.8h-1.8zM261.5,70.3h1.8v1.8h-1.8zM261.5,83.3h1.8v1.8h-1.8zM261.5,119.5h1.8v1.8h-1.8zM261.5,130.9h1.8v1.8h-1.8zM261.5,152.3h1.8v1.8h-1.8zM261.5,161.5h1.8v1.8h-1.8zM261.5,170.5h1.8v1.8h-1.8zM261.5,188.8h1.8v1.8h-1.8zM261.5,196.9h1.8v1.8h-1.8zM261.5,246.0h1.8v1.8h-1.8zM261.5,256.4h1.8v1.8h-1.8zM261.5,266.5h1.8v1.8h-1.8zM261.5,272.1h1.8v1.8h-1.8zM261.5,287.4h1.8v1.8h-1.8zM266.5,15.6h1.8v1.8h-1.8zM266.5,30.5h1.8v1.8h-1.8zM266.5,43.9h1.8v1.8h-1.8zM266.5,57.1h1.8v1.8h-1.8zM266.5,70.3h1.8v1.8h-1.8zM266.5,152.3h1.8v1.8h-1.8zM266.5,161.5h1.8v1.8h-1.8zM266.5,188.8h1.8v1.8h-1.8zM266.5,211.1h1.8v1.8h-1.8zM266.5,226.7h1.8v1.8h-1.8zM266.5,239.2h1.8v1.8h-1.8zM266.5,246.0h1.8v1.8h-1.8zM266.5,256.4h1.8v1.8h-1.8zM266.5,261.5h1.8v1.8h-1.8zM272.2,43.9h1.8v1.8h-1.8zM272.2,57.1h1.8v1.8h-1.8zM272.2,107.9h1.8v1.8h-1.8zM272.2,119.5h1.8v1.8h-1.8zM272.2,130.9h1.8v1.8h-1.8zM272.2,161.5h1.8v1.8h-1.8zM272.2,170.5h1.8v1.8h-1.8zM272.2,204.1h1.8v1.8h-1.8zM272.2,239.2h1.8v1.8h-1.8zM272.2,246.0h1.8v1.8h-1.8zM272.2,256.4h1.8v1.8h-1.8zM272.2,287.4h1.8v1.8h-1.8zM287.5,30.5h1.8v1.8h-1.8zM287.5,107.9h1.8v1.8h-1.8zM287.5,142.7h1.8v1.8h-1.8zM287.5,188.8h1.8v1.8h-1.8zM287.5,196.9h1.8v1.8h-1.8zM287.5,204.1h1.8v1.8h-1.8zM287.5,226.7h1.8v1.8h-1.8zM287.5,239.2h1.8v1.8h-1.8zM287.5,246.0h1.8v1.8h-1.8zM287.5,250.7h1.8v1.8h-1.8zM287.5,256.4h1.8v1.8h-1.8zM287.5,272.1h1.8v1.8h-1.8z" fill="#f55" opacity="0.2"/>
<rect x="274.06" y="0" width="15.30" height="274.04" fill="#fff" opacity="0.3"/>
<rect x="268.93" y="0.5" width="4.63" height="3" fill="#f66" opacity="0.6"/>
<rect x="0.5" y="268.91" width="3" height="4.63" fill="#f66" opacity="0.6"/>
<rect x="0" y="274.04" width="274.06" height="15.30" fill="#fff" opacity="0.3"/>
<linearGradient id="gL0" x1="0" y1="1" x2="1" y2="0"><stop offset="0.000" stop-color="#fcc"/><stop offset="0.168" stop-color="#faa"/><stop offset="0.265" stop-color="#f77"/><stop offset="0.346" stop-color="#f33"/><stop offset="0.419" stop-color="#f00"/><stop offset="0.500" stop-color="#f00"/><stop offset="0.500" stop-color="#f00"/><stop offset="0.581" stop-color="#f00"/><stop offset="0.654" stop-color="#f33"/><stop offset="0.735" stop-color="#f77"/><stop offset="0.832" stop-color="#faa"/><stop offset="1.000" stop-color="#fcc"/></linearGradient>
<rect x="0.00" y="0.00" width="17.45" height="17.45" fill="url(#gL0)"/>
<rect x="0.00" y="0.00" width="17.45" height="17.45" fill="#fff" filter="url(#speck)" opacity="0.55"/>
<linearGradient id="gL1" x1="0" y1="1" x2="1" y2="0"><stop offset="0.000" stop-color="#fcc"/><stop offset="0.113" stop-color="#faa"/><stop offset="0.227" stop-color="#f77"/><stop offset="0.321" stop-color="#f33"/><stop offset="0.406" stop-color="#f00"/><stop offset="0.500" stop-color="#f00"/><stop offset="0.500" stop-color="#f00"/><stop offset="0.594" stop-color="#f00"/><stop offset="0.679" stop-color="#f33"/><stop offset="0.773" stop-color="#f77"/><stop offset="0.887" stop-color="#faa"/><stop offset="1.000" stop-color="#fcc"/></linearGradient>
<rect x="17.45" y="17.45" width="15.00" height="15.00" fill="url(#gL1)"/>
<rect x="17.45" y="17.45" width="15.00" height="15.00" fill="#fff" filter="url(#speck)" opacity="0.55"/>
<linearGradient id="gL2" x1="0" y1="1" x2="1" y2="0"><stop offset="0.000" stop-color="#fcc"/><stop offset="0.065" stop-color="#faa"/><stop offset="0.192" stop-color="#f77"/><stop offset="0.298" stop-color="#f33"/><stop offset="0.394" stop-color="#f00"/><stop offset="0.500" stop-color="#f00"/><stop offset="0.500" stop-color="#f00"/><stop offset="0.606" stop-color="#f00"/><stop offset="0.702" stop-color="#f33"/><stop offset="0.808" stop-color="#f77"/><stop offset="0.935" stop-color="#faa"/><stop offset="1.000" stop-color="#fcc"/></linearGradient>
<rect x="32.45" y="32.45" width="13.32" height="13.32" fill="url(#gL2)"/>
<rect x="32.45" y="32.45" width="13.32" height="13.32" fill="#fff" filter="url(#speck)" opacity="0.55"/>
<linearGradient id="gL3" x1="0" y1="1" x2="1" y2="0"><stop offset="0.000" stop-color="#fcc"/><stop offset="0.061" stop-color="#faa"/><stop offset="0.190" stop-color="#f77"/><stop offset="0.297" stop-color="#f33"/><stop offset="0.393" stop-color="#f00"/><stop offset="0.500" stop-color="#f00"/><stop offset="0.500" stop-color="#f00"/><stop offset="0.607" stop-color="#f00"/><stop offset="0.703" stop-color="#f33"/><stop offset="0.810" stop-color="#f77"/><stop offset="0.939" stop-color="#faa"/><stop offset="1.000" stop-color="#fcc"/></linearGradient>
<rect x="45.77" y="45.77" width="13.21" height="13.21" fill="url(#gL3)"/>
<rect x="45.77" y="45.77" width="13.21" height="13.21" fill="#fff" filter="url(#speck)" opacity="0.55"/>
<linearGradient id="gL4" x1="0" y1="1" x2="1" y2="0"><stop offset="0.000" stop-color="#fcc"/><stop offset="0.061" stop-color="#faa"/><stop offset="0.190" stop-color="#f77"/><stop offset="0.297" stop-color="#f33"/><stop offset="0.393" stop-color="#f00"/><stop offset="0.500" stop-color="#f00"/><stop offset="0.500" stop-color="#f00"/><stop offset="0.607" stop-color="#f00"/><stop offset="0.703" stop-color="#f33"/><stop offset="0.810" stop-color="#f77"/><stop offset="0.939" stop-color="#faa"/><stop offset="1.000" stop-color="#fcc"/></linearGradient>
<rect x="58.98" y="58.98" width="13.22" height="13.22" fill="url(#gL4)"/>
<rect x="58.98" y="58.98" width="13.22" height="13.22" fill="#fff" filter="url(#speck)" opacity="0.55"/>
<linearGradient id="gL5" x1="0" y1="1" x2="1" y2="0"><stop offset="0.000" stop-color="#fcc"/><stop offset="0.053" stop-color="#faa"/><stop offset="0.184" stop-color="#f77"/><stop offset="0.293" stop-color="#f33"/><stop offset="0.391" stop-color="#f00"/><stop offset="0.500" stop-color="#f00"/><stop offset="0.500" stop-color="#f00"/><stop offset="0.609" stop-color="#f00"/><stop offset="0.707" stop-color="#f33"/><stop offset="0.816" stop-color="#f77"/><stop offset="0.947" stop-color="#faa"/><stop offset="1.000" stop-color="#fcc"/></linearGradient>
<rect x="72.20" y="72.20" width="12.97" height="12.97" fill="url(#gL5)"/>
<rect x="72.20" y="72.20" width="12.97" height="12.97" fill="#fff" filter="url(#speck)" opacity="0.55"/>
<linearGradient id="gL6" x1="0" y1="1" x2="1" y2="0"><stop offset="0.000" stop-color="#fcc"/><stop offset="0.024" stop-color="#faa"/><stop offset="0.163" stop-color="#f77"/><stop offset="0.279" stop-color="#f33"/><stop offset="0.384" stop-color="#f00"/><stop offset="0.500" stop-color="#f00"/><stop offset="0.500" stop-color="#f00"/><stop offset="0.616" stop-color="#f00"/><stop offset="0.721" stop-color="#f33"/><stop offset="0.837" stop-color="#f77"/><stop offset="0.976" stop-color="#faa"/><stop offset="1.000" stop-color="#fcc"/></linearGradient>
<rect x="85.17" y="85.17" width="12.19" height="12.18" fill="url(#gL6)"/>
<rect x="85.17" y="85.17" width="12.19" height="12.18" fill="#fff" filter="url(#speck)" opacity="0.55"/>
<linearGradient id="gL7" x1="0" y1="1" x2="1" y2="0"><stop offset="0.000" stop-color="#fcc"/><stop offset="0.035" stop-color="#faa"/><stop offset="0.171" stop-color="#f77"/><stop offset="0.285" stop-color="#f33"/><stop offset="0.387" stop-color="#f00"/><stop offset="0.500" stop-color="#f00"/><stop offset="0.500" stop-color="#f00"/><stop offset="0.613" stop-color="#f00"/><stop offset="0.715" stop-color="#f33"/><stop offset="0.829" stop-color="#f77"/><stop offset="0.965" stop-color="#faa"/><stop offset="1.000" stop-color="#fcc"/></linearGradient>
<rect x="97.36" y="97.35" width="12.48" height="12.47" fill="url(#gL7)"/>
<rect x="97.36" y="97.35" width="12.48" height="12.47" fill="#fff" filter="url(#speck)" opacity="0.55"/>
<linearGradient id="gL8" x1="0" y1="1" x2="1" y2="0"><stop offset="0.000" stop-color="#fcc"/><stop offset="0.001" stop-color="#faa"/><stop offset="0.147" stop-color="#f77"/><stop offset="0.269" stop-color="#f33"/><stop offset="0.378" stop-color="#f00"/><stop offset="0.500" stop-color="#f00"/><stop offset="0.500" stop-color="#f00"/><stop offset="0.622" stop-color="#f00"/><stop offset="0.731" stop-color="#f33"/><stop offset="0.853" stop-color="#f77"/><stop offset="0.999" stop-color="#faa"/><stop offset="1.000" stop-color="#fcc"/></linearGradient>
<rect x="109.83" y="109.83" width="11.61" height="11.61" fill="url(#gL8)"/>
<rect x="109.83" y="109.83" width="11.61" height="11.61" fill="#fff" filter="url(#speck)" opacity="0.55"/>
<linearGradient id="gL9" x1="0" y1="1" x2="1" y2="0"><stop offset="0.000" stop-color="#faa"/><stop offset="0.000" stop-color="#fcc"/><stop offset="0.139" stop-color="#f77"/><stop offset="0.264" stop-color="#f33"/><stop offset="0.376" stop-color="#f00"/><stop offset="0.500" stop-color="#f00"/><stop offset="0.500" stop-color="#f00"/><stop offset="0.624" stop-color="#f00"/><stop offset="0.736" stop-color="#f33"/><stop offset="0.861" stop-color="#f77"/><stop offset="1.000" stop-color="#faa"/><stop offset="1.000" stop-color="#fcc"/></linearGradient>
<rect x="121.44" y="121.43" width="11.37" height="11.37" fill="url(#gL9)"/>
<rect x="121.44" y="121.43" width="11.37" height="11.37" fill="#fff" filter="url(#speck)" opacity="0.55"/>
<linearGradient id="gL10" x1="0" y1="1" x2="1" y2="0"><stop offset="0.000" stop-color="#fcc"/><stop offset="0.008" stop-color="#faa"/><stop offset="0.152" stop-color="#f77"/><stop offset="0.272" stop-color="#f33"/><stop offset="0.380" stop-color="#f00"/><stop offset="0.500" stop-color="#f00"/><stop offset="0.500" stop-color="#f00"/><stop offset="0.620" stop-color="#f00"/><stop offset="0.728" stop-color="#f33"/><stop offset="0.848" stop-color="#f77"/><stop offset="0.992" stop-color="#faa"/><stop offset="1.000" stop-color="#fcc"/></linearGradient>
<rect x="132.82" y="132.81" width="11.78" height="11.78" fill="url(#gL10)"/>
<rect x="132.82" y="132.81" width="11.78" height="11.78" fill="#fff" filter="url(#speck)" opacity="0.55"/>
<linearGradient id="gL11" x1="0" y1="1" x2="1" y2="0"><stop offset="0.000" stop-color="#faa"/><stop offset="0.000" stop-color="#fcc"/><stop offset="0.073" stop-color="#f77"/><stop offset="0.220" stop-color="#f33"/><stop offset="0.353" stop-color="#f00"/><stop offset="0.500" stop-color="#f00"/><stop offset="0.500" stop-color="#f00"/><stop offset="0.647" stop-color="#f00"/><stop offset="0.780" stop-color="#f33"/><stop offset="0.927" stop-color="#f77"/><stop offset="1.000" stop-color="#faa"/><stop offset="1.000" stop-color="#fcc"/></linearGradient>
<rect x="144.59" y="144.58" width="9.60" height="9.60" fill="url(#gL11)"/>
<rect x="144.59" y="144.58" width="9.60" height="9.60" fill="#fff" filter="url(#speck)" opacity="0.35"/>
<linearGradient id="gL12" x1="0" y1="1" x2="1" y2="0"><stop offset="0.000" stop-color="#faa"/><stop offset="0.000" stop-color="#fcc"/><stop offset="0.054" stop-color="#f77"/><stop offset="0.208" stop-color="#f33"/><stop offset="0.346" stop-color="#f00"/><stop offset="0.500" stop-color="#f00"/><stop offset="0.500" stop-color="#f00"/><stop offset="0.654" stop-color="#f00"/><stop offset="0.792" stop-color="#f33"/><stop offset="0.946" stop-color="#f77"/><stop offset="1.000" stop-color="#faa"/><stop offset="1.000" stop-color="#fcc"/></linearGradient>
<rect x="154.20" y="154.18" width="9.19" height="9.19" fill="url(#gL12)"/>
<rect x="154.20" y="154.18" width="9.19" height="9.19" fill="#fff" filter="url(#speck)" opacity="0.35"/>
<linearGradient id="gL13" x1="0" y1="1" x2="1" y2="0"><stop offset="0.000" stop-color="#faa"/><stop offset="0.000" stop-color="#fcc"/><stop offset="0.048" stop-color="#f77"/><stop offset="0.204" stop-color="#f33"/><stop offset="0.344" stop-color="#f00"/><stop offset="0.500" stop-color="#f00"/><stop offset="0.500" stop-color="#f00"/><stop offset="0.656" stop-color="#f00"/><stop offset="0.796" stop-color="#f33"/><stop offset="0.952" stop-color="#f77"/><stop offset="1.000" stop-color="#faa"/><stop offset="1.000" stop-color="#fcc"/></linearGradient>
<rect x="163.38" y="163.37" width="9.07" height="9.07" fill="url(#gL13)"/>
<rect x="163.38" y="163.37" width="9.07" height="9.07" fill="#fff" filter="url(#speck)" opacity="0.35"/>
<linearGradient id="gL14" x1="0" y1="1" x2="1" y2="0"><stop offset="0.000" stop-color="#faa"/><stop offset="0.000" stop-color="#fcc"/><stop offset="0.062" stop-color="#f77"/><stop offset="0.213" stop-color="#f33"/><stop offset="0.349" stop-color="#f00"/><stop offset="0.500" stop-color="#f00"/><stop offset="0.500" stop-color="#f00"/><stop offset="0.651" stop-color="#f00"/><stop offset="0.787" stop-color="#f33"/><stop offset="0.938" stop-color="#f77"/><stop offset="1.000" stop-color="#faa"/><stop offset="1.000" stop-color="#fcc"/></linearGradient>
<rect x="172.46" y="172.44" width="9.36" height="9.36" fill="url(#gL14)"/>
<rect x="172.46" y="172.44" width="9.36" height="9.36" fill="#fff" filter="url(#speck)" opacity="0.35"/>
<linearGradient id="gL15" x1="0" y1="1" x2="1" y2="0"><stop offset="0.000" stop-color="#faa"/><stop offset="0.000" stop-color="#fcc"/><stop offset="0.040" stop-color="#f77"/><stop offset="0.199" stop-color="#f33"/><stop offset="0.341" stop-color="#f00"/><stop offset="0.500" stop-color="#f00"/><stop offset="0.500" stop-color="#f00"/><stop offset="0.659" stop-color="#f00"/><stop offset="0.801" stop-color="#f33"/><stop offset="0.960" stop-color="#f77"/><stop offset="1.000" stop-color="#faa"/><stop offset="1.000" stop-color="#fcc"/></linearGradient>
<rect x="181.82" y="181.80" width="8.92" height="8.92" fill="url(#gL15)"/>
<rect x="181.82" y="181.80" width="8.92" height="8.92" fill="#fff" filter="url(#speck)" opacity="0.35"/>
<linearGradient id="gL16" x1="0" y1="1" x2="1" y2="0"><stop offset="0.000" stop-color="#f77"/><stop offset="0.000" stop-color="#faa"/><stop offset="0.000" stop-color="#fcc"/><stop offset="0.166" stop-color="#f33"/><stop offset="0.324" stop-color="#f00"/><stop offset="0.500" stop-color="#f00"/><stop offset="0.500" stop-color="#f00"/><stop offset="0.676" stop-color="#f00"/><stop offset="0.834" stop-color="#f33"/><stop offset="1.000" stop-color="#f77"/><stop offset="1.000" stop-color="#faa"/><stop offset="1.000" stop-color="#fcc"/></linearGradient>
<rect x="190.73" y="190.72" width="8.05" height="8.05" fill="url(#gL16)"/>
<rect x="190.73" y="190.72" width="8.05" height="8.05" fill="#fff" filter="url(#speck)" opacity="0.35"/>
<linearGradient id="gL17" x1="0" y1="1" x2="1" y2="0"><stop offset="0.000" stop-color="#f77"/><stop offset="0.000" stop-color="#faa"/><stop offset="0.000" stop-color="#fcc"/><stop offset="0.129" stop-color="#f33"/><stop offset="0.305" stop-color="#f00"/><stop offset="0.500" stop-color="#f00"/><stop offset="0.500" stop-color="#f00"/><stop offset="0.695" stop-color="#f00"/><stop offset="0.871" stop-color="#f33"/><stop offset="1.000" stop-color="#f77"/><stop offset="1.000" stop-color="#faa"/><stop offset="1.000" stop-color="#fcc"/></linearGradient>
<rect x="198.79" y="198.78" width="7.25" height="7.25" fill="url(#gL17)"/>
<rect x="198.79" y="198.78" width="7.25" height="7.25" fill="#fff" filter="url(#speck)" opacity="0.35"/>
<linearGradient id="gL18" x1="0" y1="1" x2="1" y2="0"><stop offset="0.000" stop-color="#f77"/><stop offset="0.000" stop-color="#faa"/><stop offset="0.000" stop-color="#fcc"/><stop offset="0.115" stop-color="#f33"/><stop offset="0.298" stop-color="#f00"/><stop offset="0.500" stop-color="#f00"/><stop offset="0.500" stop-color="#f00"/><stop offset="0.702" stop-color="#f00"/><stop offset="0.885" stop-color="#f33"/><stop offset="1.000" stop-color="#f77"/><stop offset="1.000" stop-color="#faa"/><stop offset="1.000" stop-color="#fcc"/></linearGradient>
<rect x="206.04" y="206.02" width="6.99" height="6.98" fill="url(#gL18)"/>
<rect x="206.04" y="206.02" width="6.99" height="6.98" fill="#fff" filter="url(#speck)" opacity="0.35"/>
<linearGradient id="gL19" x1="0" y1="1" x2="1" y2="0"><stop offset="0.000" stop-color="#f77"/><stop offset="0.000" stop-color="#faa"/><stop offset="0.000" stop-color="#fcc"/><stop offset="0.161" stop-color="#f33"/><stop offset="0.322" stop-color="#f00"/><stop offset="0.500" stop-color="#f00"/><stop offset="0.500" stop-color="#f00"/><stop offset="0.678" stop-color="#f00"/><stop offset="0.839" stop-color="#f33"/><stop offset="1.000" stop-color="#f77"/><stop offset="1.000" stop-color="#faa"/><stop offset="1.000" stop-color="#fcc"/></linearGradient>
<rect x="213.02" y="213.01" width="7.92" height="7.92" fill="url(#gL19)"/>
<rect x="213.02" y="213.01" width="7.92" height="7.92" fill="#fff" filter="url(#speck)" opacity="0.35"/>
<linearGradient id="gL20" x1="0" y1="1" x2="1" y2="0"><stop offset="0.000" stop-color="#f77"/><stop offset="0.000" stop-color="#faa"/><stop offset="0.000" stop-color="#fcc"/><stop offset="0.151" stop-color="#f33"/><stop offset="0.316" stop-color="#f00"/><stop offset="0.500" stop-color="#f00"/><stop offset="0.500" stop-color="#f00"/><stop offset="0.684" stop-color="#f00"/><stop offset="0.849" stop-color="#f33"/><stop offset="1.000" stop-color="#f77"/><stop offset="1.000" stop-color="#faa"/><stop offset="1.000" stop-color="#fcc"/></linearGradient>
<rect x="220.94" y="220.93" width="7.69" height="7.69" fill="url(#gL20)"/>
<rect x="220.94" y="220.93" width="7.69" height="7.69" fill="#fff" filter="url(#speck)" opacity="0.35"/>
<linearGradient id="gL21" x1="0" y1="1" x2="1" y2="0"><stop offset="0.000" stop-color="#f77"/><stop offset="0.000" stop-color="#faa"/><stop offset="0.000" stop-color="#fcc"/><stop offset="0.098" stop-color="#f33"/><stop offset="0.289" stop-color="#f00"/><stop offset="0.500" stop-color="#f00"/><stop offset="0.500" stop-color="#f00"/><stop offset="0.711" stop-color="#f00"/><stop offset="0.902" stop-color="#f33"/><stop offset="1.000" stop-color="#f77"/><stop offset="1.000" stop-color="#faa"/><stop offset="1.000" stop-color="#fcc"/></linearGradient>
<rect x="228.64" y="228.62" width="6.69" height="6.69" fill="url(#gL21)"/>
<rect x="228.64" y="228.62" width="6.69" height="6.69" fill="#fff" filter="url(#speck)" opacity="0.35"/>
<linearGradient id="gL22" x1="0" y1="1" x2="1" y2="0"><stop offset="0.000" stop-color="#f77"/><stop offset="0.000" stop-color="#faa"/><stop offset="0.000" stop-color="#fcc"/><stop offset="0.035" stop-color="#f33"/><stop offset="0.255" stop-color="#f00"/><stop offset="0.500" stop-color="#f00"/><stop offset="0.500" stop-color="#f00"/><stop offset="0.745" stop-color="#f00"/><stop offset="0.965" stop-color="#f33"/><stop offset="1.000" stop-color="#f77"/><stop offset="1.000" stop-color="#faa"/><stop offset="1.000" stop-color="#fcc"/></linearGradient>
<rect x="235.33" y="235.31" width="5.78" height="5.78" fill="url(#gL22)"/>
<rect x="235.33" y="235.31" width="5.78" height="5.78" fill="#fff" filter="url(#speck)" opacity="0.35"/>
<linearGradient id="gL23" x1="0" y1="1" x2="1" y2="0"><stop offset="0.000" stop-color="#f77"/><stop offset="0.000" stop-color="#faa"/><stop offset="0.000" stop-color="#fcc"/><stop offset="0.108" stop-color="#f33"/><stop offset="0.294" stop-color="#f00"/><stop offset="0.500" stop-color="#f00"/><stop offset="0.500" stop-color="#f00"/><stop offset="0.706" stop-color="#f00"/><stop offset="0.892" stop-color="#f33"/><stop offset="1.000" stop-color="#f77"/><stop offset="1.000" stop-color="#faa"/><stop offset="1.000" stop-color="#fcc"/></linearGradient>
<rect x="241.11" y="241.09" width="6.86" height="6.86" fill="url(#gL23)"/>
<rect x="241.11" y="241.09" width="6.86" height="6.86" fill="#fff" filter="url(#speck)" opacity="0.35"/>
<linearGradient id="gL24" x1="0" y1="1" x2="1" y2="0"><stop offset="0.000" stop-color="#f33"/><stop offset="0.000" stop-color="#f77"/><stop offset="0.000" stop-color="#faa"/><stop offset="0.000" stop-color="#fcc"/><stop offset="0.197" stop-color="#f00"/><stop offset="0.500" stop-color="#f00"/><stop offset="0.500" stop-color="#f00"/><stop offset="0.803" stop-color="#f00"/><stop offset="1.000" stop-color="#f33"/><stop offset="1.000" stop-color="#f77"/><stop offset="1.000" stop-color="#faa"/><stop offset="1.000" stop-color="#fcc"/></linearGradient>
<rect x="247.97" y="247.95" width="4.66" height="4.66" fill="url(#gL24)"/>
<rect x="247.97" y="247.95" width="4.66" height="4.66" fill="#fff" filter="url(#speck)" opacity="0.35"/>
<linearGradient id="gL25" x1="0" y1="1" x2="1" y2="0"><stop offset="0.000" stop-color="#f77"/><stop offset="0.000" stop-color="#faa"/><stop offset="0.000" stop-color="#fcc"/><stop offset="0.031" stop-color="#f33"/><stop offset="0.253" stop-color="#f00"/><stop offset="0.500" stop-color="#f00"/><stop offset="0.500" stop-color="#f00"/><stop offset="0.747" stop-color="#f00"/><stop offset="0.969" stop-color="#f33"/><stop offset="1.000" stop-color="#f77"/><stop offset="1.000" stop-color="#faa"/><stop offset="1.000" stop-color="#fcc"/></linearGradient>
<rect x="252.63" y="252.61" width="5.72" height="5.72" fill="url(#gL25)"/>
<rect x="252.63" y="252.61" width="5.72" height="5.72" fill="#fff" filter="url(#speck)" opacity="0.35"/>
<linearGradient id="gL26" x1="0" y1="1" x2="1" y2="0"><stop offset="0.000" stop-color="#f33"/><stop offset="0.000" stop-color="#f77"/><stop offset="0.000" stop-color="#faa"/><stop offset="0.000" stop-color="#fcc"/><stop offset="0.218" stop-color="#f00"/><stop offset="0.500" stop-color="#f00"/><stop offset="0.500" stop-color="#f00"/><stop offset="0.782" stop-color="#f00"/><stop offset="1.000" stop-color="#f33"/><stop offset="1.000" stop-color="#f77"/><stop offset="1.000" stop-color="#faa"/><stop offset="1.000" stop-color="#fcc"/></linearGradient>
<rect x="258.35" y="258.33" width="5.02" height="5.02" fill="url(#gL26)"/>
<rect x="258.35" y="258.33" width="5.02" height="5.02" fill="#fff" filter="url(#speck)" opacity="0.35"/>
<linearGradient id="gL27" x1="0" y1="1" x2="1" y2="0"><stop offset="0.000" stop-color="#f33"/><stop offset="0.000" stop-color="#f77"/><stop offset="0.000" stop-color="#faa"/><stop offset="0.000" stop-color="#fcc"/><stop offset="0.220" stop-color="#f00"/><stop offset="0.500" stop-color="#f00"/><stop offset="0.500" stop-color="#f00"/><stop offset="0.780" stop-color="#f00"/><stop offset="1.000" stop-color="#f33"/><stop offset="1.000" stop-color="#f77"/><stop offset="1.000" stop-color="#faa"/><stop offset="1.000" stop-color="#fcc"/></linearGradient>
<rect x="263.37" y="263.36" width="5.06" height="5.06" fill="url(#gL27)"/>
<rect x="263.37" y="263.36" width="5.06" height="5.06" fill="#fff" filter="url(#speck)" opacity="0.35"/>
<linearGradient id="gL28" x1="0" y1="1" x2="1" y2="0"><stop offset="0.000" stop-color="#f77"/><stop offset="0.000" stop-color="#faa"/><stop offset="0.000" stop-color="#fcc"/><stop offset="0.022" stop-color="#f33"/><stop offset="0.249" stop-color="#f00"/><stop offset="0.500" stop-color="#f00"/><stop offset="0.500" stop-color="#f00"/><stop offset="0.751" stop-color="#f00"/><stop offset="0.978" stop-color="#f33"/><stop offset="1.000" stop-color="#f77"/><stop offset="1.000" stop-color="#faa"/><stop offset="1.000" stop-color="#fcc"/></linearGradient>
<rect x="268.43" y="268.41" width="5.63" height="5.63" fill="url(#gL28)"/>
<rect x="268.43" y="268.41" width="5.63" height="5.63" fill="#fff" filter="url(#speck)" opacity="0.35"/>
<linearGradient id="gL29" x1="0" y1="1" x2="1" y2="0"><stop offset="0.000" stop-color="#fbb"/><stop offset="0.153" stop-color="#f77"/><stop offset="0.269" stop-color="#f33"/><stop offset="0.361" stop-color="#f00"/><stop offset="0.500" stop-color="#f00"/><stop offset="0.500" stop-color="#f00"/><stop offset="0.639" stop-color="#f00"/><stop offset="0.731" stop-color="#f33"/><stop offset="0.847" stop-color="#f77"/><stop offset="1.000" stop-color="#fbb"/></linearGradient>
<rect x="274.06" y="274.04" width="15.30" height="15.30" fill="url(#gL29)"/>
<rect x="274.06" y="274.04" width="15.30" height="15.30" fill="#fff" filter="url(#speck)" opacity="0.55"/>
<line x1="17.05" y1="0" x2="17.05" y2="289.34" stroke="#9a9090" stroke-width="1"/>
<line x1="0" y1="17.34" x2="289.36" y2="17.34" stroke="#9a9090" stroke-width="1"/>
<line x1="32.05" y1="0" x2="32.05" y2="289.34" stroke="#9a9090" stroke-width="1"/>
<line x1="0" y1="32.34" x2="289.36" y2="32.34" stroke="#9a9090" stroke-width="1"/>
<line x1="46.05" y1="0" x2="46.05" y2="289.34" stroke="#9a9090" stroke-width="1"/>
<line x1="0" y1="45.34" x2="289.36" y2="45.34" stroke="#9a9090" stroke-width="1"/>
<line x1="59.05" y1="0" x2="59.05" y2="289.34" stroke="#9a9090" stroke-width="1"/>
<line x1="0" y1="59.34" x2="289.36" y2="59.34" stroke="#9a9090" stroke-width="1"/>
<line x1="72.05" y1="0" x2="72.05" y2="289.34" stroke="#9a9090" stroke-width="1"/>
<line x1="0" y1="72.34" x2="289.36" y2="72.34" stroke="#9a9090" stroke-width="1"/>
<line x1="85.05" y1="0" x2="85.05" y2="289.34" stroke="#9a9090" stroke-width="1"/>
<line x1="0" y1="85.34" x2="289.36" y2="85.34" stroke="#9a9090" stroke-width="1"/>
<line x1="97.05" y1="0" x2="97.05" y2="289.34" stroke="#9a9090" stroke-width="1"/>
<line x1="0" y1="97.34" x2="289.36" y2="97.34" stroke="#9a9090" stroke-width="1"/>
<line x1="110.05" y1="0" x2="110.05" y2="289.34" stroke="#9a9090" stroke-width="1"/>
<line x1="0" y1="109.34" x2="289.36" y2="109.34" stroke="#9a9090" stroke-width="1"/>
<line x1="121.05" y1="0" x2="121.05" y2="289.34" stroke="#9a9090" stroke-width="1"/>
<line x1="0" y1="121.34" x2="289.36" y2="121.34" stroke="#9a9090" stroke-width="1"/>
<line x1="133.05" y1="0" x2="133.05" y2="289.34" stroke="#9a9090" stroke-width="1"/>
<line x1="0" y1="132.34" x2="289.36" y2="132.34" stroke="#9a9090" stroke-width="1"/>
<line x1="145.05" y1="0" x2="145.05" y2="289.34" stroke="#9a9090" stroke-width="1"/>
<line x1="0" y1="144.34" x2="289.36" y2="144.34" stroke="#9a9090" stroke-width="1"/>
<line x1="154.05" y1="0" x2="154.05" y2="289.34" stroke="#9a9090" stroke-width="1"/>
<line x1="0" y1="154.34" x2="289.36" y2="154.34" stroke="#9a9090" stroke-width="1"/>
<line x1="163.05" y1="0" x2="163.05" y2="289.34" stroke="#9a9090" stroke-width="1"/>
<line x1="0" y1="163.34" x2="289.36" y2="163.34" stroke="#9a9090" stroke-width="1"/>
<line x1="172.05" y1="0" x2="172.05" y2="289.34" stroke="#9a9090" stroke-width="1"/>
<line x1="0" y1="172.34" x2="289.36" y2="172.34" stroke="#9a9090" stroke-width="1"/>
<line x1="182.05" y1="0" x2="182.05" y2="289.34" stroke="#9a9090" stroke-width="1"/>
<line x1="0" y1="181.34" x2="289.36" y2="181.34" stroke="#9a9090" stroke-width="1"/>
<line x1="191.05" y1="0" x2="191.05" y2="289.34" stroke="#9a9090" stroke-width="1"/>
<line x1="0" y1="190.34" x2="289.36" y2="190.34" stroke="#9a9090" stroke-width="1"/>
<line x1="199.05" y1="0" x2="199.05" y2="289.34" stroke="#9a9090" stroke-width="1"/>
<line x1="0" y1="198.34" x2="289.36" y2="198.34" stroke="#9a9090" stroke-width="1"/>
<line x1="206.05" y1="0" x2="206.05" y2="289.34" stroke="#9a9090" stroke-width="1"/>
<line x1="0" y1="206.34" x2="289.36" y2="206.34" stroke="#9a9090" stroke-width="1"/>
<line x1="213.05" y1="0" x2="213.05" y2="289.34" stroke="#9a9090" stroke-width="1"/>
<line x1="0" y1="213.34" x2="289.36" y2="213.34" stroke="#9a9090" stroke-width="1"/>
<line x1="221.05" y1="0" x2="221.05" y2="289.34" stroke="#9a9090" stroke-width="1"/>
<line x1="0" y1="221.34" x2="289.36" y2="221.34" stroke="#9a9090" stroke-width="1"/>
<line x1="229.05" y1="0" x2="229.05" y2="289.34" stroke="#9a9090" stroke-width="1"/>
<line x1="0" y1="228.34" x2="289.36" y2="228.34" stroke="#9a9090" stroke-width="1"/>
<line x1="235.05" y1="0" x2="235.05" y2="289.34" stroke="#9a9090" stroke-width="1"/>
<line x1="0" y1="235.34" x2="289.36" y2="235.34" stroke="#9a9090" stroke-width="1"/>
<line x1="241.05" y1="0" x2="241.05" y2="289.34" stroke="#9a9090" stroke-width="1"/>
<line x1="0" y1="241.34" x2="289.36" y2="241.34" stroke="#9a9090" stroke-width="1"/>
<line x1="248.05" y1="0" x2="248.05" y2="289.34" stroke="#9a9090" stroke-width="1"/>
<line x1="0" y1="248.34" x2="289.36" y2="248.34" stroke="#9a9090" stroke-width="1"/>
<line x1="253.05" y1="0" x2="253.05" y2="289.34" stroke="#9a9090" stroke-width="1"/>
<line x1="0" y1="252.34" x2="289.36" y2="252.34" stroke="#9a9090" stroke-width="1"/>
<line x1="258.05" y1="0" x2="258.05" y2="289.34" stroke="#9a9090" stroke-width="1"/>
<line x1="0" y1="258.34" x2="289.36" y2="258.34" stroke="#9a9090" stroke-width="1"/>
<line x1="263.05" y1="0" x2="263.05" y2="289.34" stroke="#9a9090" stroke-width="1"/>
<line x1="0" y1="263.34" x2="289.36" y2="263.34" stroke="#9a9090" stroke-width="1"/>
<line x1="268.05" y1="0" x2="268.05" y2="289.34" stroke="#9a9090" stroke-width="1"/>
<line x1="0" y1="268.34" x2="289.36" y2="268.34" stroke="#9a9090" stroke-width="1"/>
<line x1="274.05" y1="0" x2="274.05" y2="289.34" stroke="#9a9090" stroke-width="1"/>
<line x1="0" y1="274.34" x2="289.36" y2="274.34" stroke="#9a9090" stroke-width="1"/>
<rect x="0" y="0" width="289.36" height="289.34" fill="none" stroke="#a39c9c" stroke-width="1"/>
</g>
<g transform="translate(413.38,78.33)">
<rect x="0" y="0" width="290.20" height="289.90" fill="#fef4f4"/>
<rect x="274.85" y="0" width="15.35" height="274.57" fill="#fff" opacity="0.6"/>
<rect x="0" y="274.57" width="274.85" height="15.33" fill="#fff" opacity="0.6"/>
<linearGradient id="gR0" x1="0" y1="1" x2="1" y2="0"><stop offset="0.000" stop-color="#fbb"/><stop offset="0.136" stop-color="#f99"/><stop offset="0.278" stop-color="#f77"/><stop offset="0.371" stop-color="#f33"/><stop offset="0.435" stop-color="#f00"/><stop offset="0.500" stop-color="#f00"/><stop offset="0.500" stop-color="#f00"/><stop offset="0.565" stop-color="#f00"/><stop offset="0.629" stop-color="#f33"/><stop offset="0.722" stop-color="#f77"/><stop offset="0.864" stop-color="#f99"/><stop offset="1.000" stop-color="#fbb"/></linearGradient>
<rect x="0.00" y="0.00" width="17.50" height="17.49" fill="url(#gR0)"/>
<rect x="0.00" y="0.00" width="17.50" height="17.49" fill="#fff" filter="url(#speck)" opacity="0.4"/>
<linearGradient id="gR1" x1="0" y1="1" x2="1" y2="0"><stop offset="0.000" stop-color="#fbb"/><stop offset="0.077" stop-color="#f99"/><stop offset="0.241" stop-color="#f77"/><stop offset="0.349" stop-color="#f33"/><stop offset="0.425" stop-color="#f00"/><stop offset="0.500" stop-color="#f00"/><stop offset="0.500" stop-color="#f00"/><stop offset="0.575" stop-color="#f00"/><stop offset="0.651" stop-color="#f33"/><stop offset="0.759" stop-color="#f77"/><stop offset="0.923" stop-color="#f99"/><stop offset="1.000" stop-color="#fbb"/></linearGradient>
<rect x="17.50" y="17.49" width="15.04" height="15.03" fill="url(#gR1)"/>
<rect x="17.50" y="17.49" width="15.04" height="15.03" fill="#fff" filter="url(#speck)" opacity="0.4"/>
<linearGradient id="gR2" x1="0" y1="1" x2="1" y2="0"><stop offset="0.000" stop-color="#fbb"/><stop offset="0.023" stop-color="#f99"/><stop offset="0.209" stop-color="#f77"/><stop offset="0.331" stop-color="#f33"/><stop offset="0.415" stop-color="#f00"/><stop offset="0.500" stop-color="#f00"/><stop offset="0.500" stop-color="#f00"/><stop offset="0.585" stop-color="#f00"/><stop offset="0.669" stop-color="#f33"/><stop offset="0.791" stop-color="#f77"/><stop offset="0.977" stop-color="#f99"/><stop offset="1.000" stop-color="#fbb"/></linearGradient>
<rect x="32.54" y="32.51" width="13.36" height="13.35" fill="url(#gR2)"/>
<rect x="32.54" y="32.51" width="13.36" height="13.35" fill="#fff" filter="url(#speck)" opacity="0.4"/>
<linearGradient id="gR3" x1="0" y1="1" x2="1" y2="0"><stop offset="0.000" stop-color="#fbb"/><stop offset="0.019" stop-color="#f99"/><stop offset="0.206" stop-color="#f77"/><stop offset="0.329" stop-color="#f33"/><stop offset="0.415" stop-color="#f00"/><stop offset="0.500" stop-color="#f00"/><stop offset="0.500" stop-color="#f00"/><stop offset="0.585" stop-color="#f00"/><stop offset="0.671" stop-color="#f33"/><stop offset="0.794" stop-color="#f77"/><stop offset="0.981" stop-color="#f99"/><stop offset="1.000" stop-color="#fbb"/></linearGradient>
<rect x="45.91" y="45.86" width="13.25" height="13.24" fill="url(#gR3)"/>
<rect x="45.91" y="45.86" width="13.25" height="13.24" fill="#fff" filter="url(#speck)" opacity="0.4"/>
<linearGradient id="gR4" x1="0" y1="1" x2="1" y2="0"><stop offset="0.000" stop-color="#fbb"/><stop offset="0.020" stop-color="#f99"/><stop offset="0.207" stop-color="#f77"/><stop offset="0.329" stop-color="#f33"/><stop offset="0.415" stop-color="#f00"/><stop offset="0.500" stop-color="#f00"/><stop offset="0.500" stop-color="#f00"/><stop offset="0.585" stop-color="#f00"/><stop offset="0.671" stop-color="#f33"/><stop offset="0.793" stop-color="#f77"/><stop offset="0.980" stop-color="#f99"/><stop offset="1.000" stop-color="#fbb"/></linearGradient>
<rect x="59.15" y="59.09" width="13.26" height="13.25" fill="url(#gR4)"/>
<rect x="59.15" y="59.09" width="13.26" height="13.25" fill="#fff" filter="url(#speck)" opacity="0.4"/>
<linearGradient id="gR5" x1="0" y1="1" x2="1" y2="0"><stop offset="0.000" stop-color="#fbb"/><stop offset="0.010" stop-color="#f99"/><stop offset="0.201" stop-color="#f77"/><stop offset="0.326" stop-color="#f33"/><stop offset="0.413" stop-color="#f00"/><stop offset="0.500" stop-color="#f00"/><stop offset="0.500" stop-color="#f00"/><stop offset="0.587" stop-color="#f00"/><stop offset="0.674" stop-color="#f33"/><stop offset="0.799" stop-color="#f77"/><stop offset="0.990" stop-color="#f99"/><stop offset="1.000" stop-color="#fbb"/></linearGradient>
<rect x="72.41" y="72.34" width="13.01" height="12.99" fill="url(#gR5)"/>
<rect x="72.41" y="72.34" width="13.01" height="12.99" fill="#fff" filter="url(#speck)" opacity="0.4"/>
<linearGradient id="gR6" x1="0" y1="1" x2="1" y2="0"><stop offset="0.000" stop-color="#f99"/><stop offset="0.000" stop-color="#fbb"/><stop offset="0.182" stop-color="#f77"/><stop offset="0.315" stop-color="#f33"/><stop offset="0.407" stop-color="#f00"/><stop offset="0.500" stop-color="#f00"/><stop offset="0.500" stop-color="#f00"/><stop offset="0.593" stop-color="#f00"/><stop offset="0.685" stop-color="#f33"/><stop offset="0.818" stop-color="#f77"/><stop offset="1.000" stop-color="#f99"/><stop offset="1.000" stop-color="#fbb"/></linearGradient>
<rect x="85.42" y="85.33" width="12.22" height="12.21" fill="url(#gR6)"/>
<rect x="85.42" y="85.33" width="12.22" height="12.21" fill="#fff" filter="url(#speck)" opacity="0.4"/>
<linearGradient id="gR7" x1="0" y1="1" x2="1" y2="0"><stop offset="0.000" stop-color="#f99"/><stop offset="0.000" stop-color="#fbb"/><stop offset="0.189" stop-color="#f77"/><stop offset="0.319" stop-color="#f33"/><stop offset="0.410" stop-color="#f00"/><stop offset="0.500" stop-color="#f00"/><stop offset="0.500" stop-color="#f00"/><stop offset="0.590" stop-color="#f00"/><stop offset="0.681" stop-color="#f33"/><stop offset="0.811" stop-color="#f77"/><stop offset="1.000" stop-color="#f99"/><stop offset="1.000" stop-color="#fbb"/></linearGradient>
<rect x="97.64" y="97.54" width="12.51" height="12.50" fill="url(#gR7)"/>
<rect x="97.64" y="97.54" width="12.51" height="12.50" fill="#fff" filter="url(#speck)" opacity="0.4"/>
<linearGradient id="gR8" x1="0" y1="1" x2="1" y2="0"><stop offset="0.000" stop-color="#f99"/><stop offset="0.000" stop-color="#fbb"/><stop offset="0.166" stop-color="#f77"/><stop offset="0.306" stop-color="#f33"/><stop offset="0.403" stop-color="#f00"/><stop offset="0.500" stop-color="#f00"/><stop offset="0.500" stop-color="#f00"/><stop offset="0.597" stop-color="#f00"/><stop offset="0.694" stop-color="#f33"/><stop offset="0.834" stop-color="#f77"/><stop offset="1.000" stop-color="#f99"/><stop offset="1.000" stop-color="#fbb"/></linearGradient>
<rect x="110.15" y="110.04" width="11.64" height="11.63" fill="url(#gR8)"/>
<rect x="110.15" y="110.04" width="11.64" height="11.63" fill="#fff" filter="url(#speck)" opacity="0.4"/>
<linearGradient id="gR9" x1="0" y1="1" x2="1" y2="0"><stop offset="0.000" stop-color="#f99"/><stop offset="0.000" stop-color="#fbb"/><stop offset="0.159" stop-color="#f77"/><stop offset="0.302" stop-color="#f33"/><stop offset="0.401" stop-color="#f00"/><stop offset="0.500" stop-color="#f00"/><stop offset="0.500" stop-color="#f00"/><stop offset="0.599" stop-color="#f00"/><stop offset="0.698" stop-color="#f33"/><stop offset="0.841" stop-color="#f77"/><stop offset="1.000" stop-color="#f99"/><stop offset="1.000" stop-color="#fbb"/></linearGradient>
<rect x="121.80" y="121.67" width="11.41" height="11.39" fill="url(#gR9)"/>
<rect x="121.80" y="121.67" width="11.41" height="11.39" fill="#fff" filter="url(#speck)" opacity="0.4"/>
<linearGradient id="gR10" x1="0" y1="1" x2="1" y2="0"><stop offset="0.000" stop-color="#f99"/><stop offset="0.000" stop-color="#fbb"/><stop offset="0.171" stop-color="#f77"/><stop offset="0.308" stop-color="#f33"/><stop offset="0.404" stop-color="#f00"/><stop offset="0.500" stop-color="#f00"/><stop offset="0.500" stop-color="#f00"/><stop offset="0.596" stop-color="#f00"/><stop offset="0.692" stop-color="#f33"/><stop offset="0.829" stop-color="#f77"/><stop offset="1.000" stop-color="#f99"/><stop offset="1.000" stop-color="#fbb"/></linearGradient>
<rect x="133.20" y="133.06" width="11.81" height="11.80" fill="url(#gR10)"/>
<rect x="133.20" y="133.06" width="11.81" height="11.80" fill="#fff" filter="url(#speck)" opacity="0.4"/>
<linearGradient id="gR11" x1="0" y1="1" x2="1" y2="0"><stop offset="0.000" stop-color="#f99"/><stop offset="0.000" stop-color="#fbb"/><stop offset="0.096" stop-color="#f77"/><stop offset="0.265" stop-color="#f33"/><stop offset="0.382" stop-color="#f00"/><stop offset="0.500" stop-color="#f00"/><stop offset="0.500" stop-color="#f00"/><stop offset="0.618" stop-color="#f00"/><stop offset="0.735" stop-color="#f33"/><stop offset="0.904" stop-color="#f77"/><stop offset="1.000" stop-color="#f99"/><stop offset="1.000" stop-color="#fbb"/></linearGradient>
<rect x="145.01" y="144.86" width="9.63" height="9.62" fill="url(#gR11)"/>
<rect x="145.01" y="144.86" width="9.63" height="9.62" fill="#fff" filter="url(#speck)" opacity="0.4"/>
<linearGradient id="gR12" x1="0" y1="1" x2="1" y2="0"><stop offset="0.000" stop-color="#f99"/><stop offset="0.000" stop-color="#fbb"/><stop offset="0.078" stop-color="#f77"/><stop offset="0.254" stop-color="#f33"/><stop offset="0.377" stop-color="#f00"/><stop offset="0.500" stop-color="#f00"/><stop offset="0.500" stop-color="#f00"/><stop offset="0.623" stop-color="#f00"/><stop offset="0.746" stop-color="#f33"/><stop offset="0.922" stop-color="#f77"/><stop offset="1.000" stop-color="#f99"/><stop offset="1.000" stop-color="#fbb"/></linearGradient>
<rect x="154.64" y="154.48" width="9.22" height="9.21" fill="url(#gR12)"/>
<rect x="154.64" y="154.48" width="9.22" height="9.21" fill="#fff" filter="url(#speck)" opacity="0.4"/>
<linearGradient id="gR13" x1="0" y1="1" x2="1" y2="0"><stop offset="0.000" stop-color="#f99"/><stop offset="0.000" stop-color="#fbb"/><stop offset="0.072" stop-color="#f77"/><stop offset="0.251" stop-color="#f33"/><stop offset="0.376" stop-color="#f00"/><stop offset="0.500" stop-color="#f00"/><stop offset="0.500" stop-color="#f00"/><stop offset="0.624" stop-color="#f00"/><stop offset="0.749" stop-color="#f33"/><stop offset="0.928" stop-color="#f77"/><stop offset="1.000" stop-color="#f99"/><stop offset="1.000" stop-color="#fbb"/></linearGradient>
<rect x="163.86" y="163.69" width="9.10" height="9.09" fill="url(#gR13)"/>
<rect x="163.86" y="163.69" width="9.10" height="9.09" fill="#fff" filter="url(#speck)" opacity="0.4"/>
<linearGradient id="gR14" x1="0" y1="1" x2="1" y2="0"><stop offset="0.000" stop-color="#f99"/><stop offset="0.000" stop-color="#fbb"/><stop offset="0.085" stop-color="#f77"/><stop offset="0.259" stop-color="#f33"/><stop offset="0.379" stop-color="#f00"/><stop offset="0.500" stop-color="#f00"/><stop offset="0.500" stop-color="#f00"/><stop offset="0.621" stop-color="#f00"/><stop offset="0.741" stop-color="#f33"/><stop offset="0.915" stop-color="#f77"/><stop offset="1.000" stop-color="#f99"/><stop offset="1.000" stop-color="#fbb"/></linearGradient>
<rect x="172.96" y="172.78" width="9.39" height="9.38" fill="url(#gR14)"/>
<rect x="172.96" y="172.78" width="9.39" height="9.38" fill="#fff" filter="url(#speck)" opacity="0.4"/>
<linearGradient id="gR15" x1="0" y1="1" x2="1" y2="0"><stop offset="0.000" stop-color="#f99"/><stop offset="0.000" stop-color="#fbb"/><stop offset="0.065" stop-color="#f77"/><stop offset="0.247" stop-color="#f33"/><stop offset="0.373" stop-color="#f00"/><stop offset="0.500" stop-color="#f00"/><stop offset="0.500" stop-color="#f00"/><stop offset="0.627" stop-color="#f00"/><stop offset="0.753" stop-color="#f33"/><stop offset="0.935" stop-color="#f77"/><stop offset="1.000" stop-color="#f99"/><stop offset="1.000" stop-color="#fbb"/></linearGradient>
<rect x="182.34" y="182.15" width="8.94" height="8.94" fill="url(#gR15)"/>
<rect x="182.34" y="182.15" width="8.94" height="8.94" fill="#fff" filter="url(#speck)" opacity="0.4"/>
<linearGradient id="gR16" x1="0" y1="1" x2="1" y2="0"><stop offset="0.000" stop-color="#f99"/><stop offset="0.000" stop-color="#fbb"/><stop offset="0.018" stop-color="#f77"/><stop offset="0.220" stop-color="#f33"/><stop offset="0.360" stop-color="#f00"/><stop offset="0.500" stop-color="#f00"/><stop offset="0.500" stop-color="#f00"/><stop offset="0.640" stop-color="#f00"/><stop offset="0.780" stop-color="#f33"/><stop offset="0.982" stop-color="#f77"/><stop offset="1.000" stop-color="#f99"/><stop offset="1.000" stop-color="#fbb"/></linearGradient>
<rect x="191.29" y="191.09" width="8.08" height="8.07" fill="url(#gR16)"/>
<rect x="191.29" y="191.09" width="8.08" height="8.07" fill="#fff" filter="url(#speck)" opacity="0.4"/>
<linearGradient id="gR17" x1="0" y1="1" x2="1" y2="0"><stop offset="0.000" stop-color="#f77"/><stop offset="0.000" stop-color="#f99"/><stop offset="0.000" stop-color="#fbb"/><stop offset="0.188" stop-color="#f33"/><stop offset="0.344" stop-color="#f00"/><stop offset="0.500" stop-color="#f00"/><stop offset="0.500" stop-color="#f00"/><stop offset="0.656" stop-color="#f00"/><stop offset="0.812" stop-color="#f33"/><stop offset="1.000" stop-color="#f77"/><stop offset="1.000" stop-color="#f99"/><stop offset="1.000" stop-color="#fbb"/></linearGradient>
<rect x="199.37" y="199.16" width="7.27" height="7.26" fill="url(#gR17)"/>
<rect x="199.37" y="199.16" width="7.27" height="7.26" fill="#fff" filter="url(#speck)" opacity="0.4"/>
<linearGradient id="gR18" x1="0" y1="1" x2="1" y2="0"><stop offset="0.000" stop-color="#f77"/><stop offset="0.000" stop-color="#f99"/><stop offset="0.000" stop-color="#fbb"/><stop offset="0.177" stop-color="#f33"/><stop offset="0.338" stop-color="#f00"/><stop offset="0.500" stop-color="#f00"/><stop offset="0.500" stop-color="#f00"/><stop offset="0.662" stop-color="#f00"/><stop offset="0.823" stop-color="#f33"/><stop offset="1.000" stop-color="#f77"/><stop offset="1.000" stop-color="#f99"/><stop offset="1.000" stop-color="#fbb"/></linearGradient>
<rect x="206.63" y="206.42" width="7.01" height="7.00" fill="url(#gR18)"/>
<rect x="206.63" y="206.42" width="7.01" height="7.00" fill="#fff" filter="url(#speck)" opacity="0.4"/>
<linearGradient id="gR19" x1="0" y1="1" x2="1" y2="0"><stop offset="0.000" stop-color="#f99"/><stop offset="0.000" stop-color="#fbb"/><stop offset="0.010" stop-color="#f77"/><stop offset="0.215" stop-color="#f33"/><stop offset="0.358" stop-color="#f00"/><stop offset="0.500" stop-color="#f00"/><stop offset="0.500" stop-color="#f00"/><stop offset="0.642" stop-color="#f00"/><stop offset="0.785" stop-color="#f33"/><stop offset="0.990" stop-color="#f77"/><stop offset="1.000" stop-color="#f99"/><stop offset="1.000" stop-color="#fbb"/></linearGradient>
<rect x="213.64" y="213.42" width="7.95" height="7.94" fill="url(#gR19)"/>
<rect x="213.64" y="213.42" width="7.95" height="7.94" fill="#fff" filter="url(#speck)" opacity="0.4"/>
<linearGradient id="gR20" x1="0" y1="1" x2="1" y2="0"><stop offset="0.000" stop-color="#f77"/><stop offset="0.000" stop-color="#f99"/><stop offset="0.000" stop-color="#fbb"/><stop offset="0.207" stop-color="#f33"/><stop offset="0.353" stop-color="#f00"/><stop offset="0.500" stop-color="#f00"/><stop offset="0.500" stop-color="#f00"/><stop offset="0.647" stop-color="#f00"/><stop offset="0.793" stop-color="#f33"/><stop offset="1.000" stop-color="#f77"/><stop offset="1.000" stop-color="#f99"/><stop offset="1.000" stop-color="#fbb"/></linearGradient>
<rect x="221.59" y="221.36" width="7.71" height="7.71" fill="url(#gR20)"/>
<rect x="221.59" y="221.36" width="7.71" height="7.71" fill="#fff" filter="url(#speck)" opacity="0.4"/>
<linearGradient id="gR21" x1="0" y1="1" x2="1" y2="0"><stop offset="0.000" stop-color="#f77"/><stop offset="0.000" stop-color="#f99"/><stop offset="0.000" stop-color="#fbb"/><stop offset="0.163" stop-color="#f33"/><stop offset="0.331" stop-color="#f00"/><stop offset="0.500" stop-color="#f00"/><stop offset="0.500" stop-color="#f00"/><stop offset="0.669" stop-color="#f00"/><stop offset="0.837" stop-color="#f33"/><stop offset="1.000" stop-color="#f77"/><stop offset="1.000" stop-color="#f99"/><stop offset="1.000" stop-color="#fbb"/></linearGradient>
<rect x="229.30" y="229.06" width="6.71" height="6.70" fill="url(#gR21)"/>
<rect x="229.30" y="229.06" width="6.71" height="6.70" fill="#fff" filter="url(#speck)" opacity="0.4"/>
<linearGradient id="gR22" x1="0" y1="1" x2="1" y2="0"><stop offset="0.000" stop-color="#f77"/><stop offset="0.000" stop-color="#f99"/><stop offset="0.000" stop-color="#fbb"/><stop offset="0.109" stop-color="#f33"/><stop offset="0.305" stop-color="#f00"/><stop offset="0.500" stop-color="#f00"/><stop offset="0.500" stop-color="#f00"/><stop offset="0.695" stop-color="#f00"/><stop offset="0.891" stop-color="#f33"/><stop offset="1.000" stop-color="#f77"/><stop offset="1.000" stop-color="#f99"/><stop offset="1.000" stop-color="#fbb"/></linearGradient>
<rect x="236.01" y="235.76" width="5.80" height="5.79" fill="url(#gR22)"/>
<rect x="236.01" y="235.76" width="5.80" height="5.79" fill="#fff" filter="url(#speck)" opacity="0.4"/>
<linearGradient id="gR23" x1="0" y1="1" x2="1" y2="0"><stop offset="0.000" stop-color="#f77"/><stop offset="0.000" stop-color="#f99"/><stop offset="0.000" stop-color="#fbb"/><stop offset="0.171" stop-color="#f33"/><stop offset="0.335" stop-color="#f00"/><stop offset="0.500" stop-color="#f00"/><stop offset="0.500" stop-color="#f00"/><stop offset="0.665" stop-color="#f00"/><stop offset="0.829" stop-color="#f33"/><stop offset="1.000" stop-color="#f77"/><stop offset="1.000" stop-color="#f99"/><stop offset="1.000" stop-color="#fbb"/></linearGradient>
<rect x="241.81" y="241.56" width="6.88" height="6.87" fill="url(#gR23)"/>
<rect x="241.81" y="241.56" width="6.88" height="6.87" fill="#fff" filter="url(#speck)" opacity="0.4"/>
<linearGradient id="gR24" x1="0" y1="1" x2="1" y2="0"><stop offset="0.000" stop-color="#f77"/><stop offset="0.000" stop-color="#f99"/><stop offset="0.000" stop-color="#fbb"/><stop offset="0.016" stop-color="#f33"/><stop offset="0.258" stop-color="#f00"/><stop offset="0.500" stop-color="#f00"/><stop offset="0.500" stop-color="#f00"/><stop offset="0.742" stop-color="#f00"/><stop offset="0.984" stop-color="#f33"/><stop offset="1.000" stop-color="#f77"/><stop offset="1.000" stop-color="#f99"/><stop offset="1.000" stop-color="#fbb"/></linearGradient>
<rect x="248.69" y="248.43" width="4.68" height="4.67" fill="url(#gR24)"/>
<rect x="248.69" y="248.43" width="4.68" height="4.67" fill="#fff" filter="url(#speck)" opacity="0.4"/>
<linearGradient id="gR25" x1="0" y1="1" x2="1" y2="0"><stop offset="0.000" stop-color="#f77"/><stop offset="0.000" stop-color="#f99"/><stop offset="0.000" stop-color="#fbb"/><stop offset="0.106" stop-color="#f33"/><stop offset="0.303" stop-color="#f00"/><stop offset="0.500" stop-color="#f00"/><stop offset="0.500" stop-color="#f00"/><stop offset="0.697" stop-color="#f00"/><stop offset="0.894" stop-color="#f33"/><stop offset="1.000" stop-color="#f77"/><stop offset="1.000" stop-color="#f99"/><stop offset="1.000" stop-color="#fbb"/></linearGradient>
<rect x="253.36" y="253.10" width="5.74" height="5.73" fill="url(#gR25)"/>
<rect x="253.36" y="253.10" width="5.74" height="5.73" fill="#fff" filter="url(#speck)" opacity="0.4"/>
<linearGradient id="gR26" x1="0" y1="1" x2="1" y2="0"><stop offset="0.000" stop-color="#f77"/><stop offset="0.000" stop-color="#f99"/><stop offset="0.000" stop-color="#fbb"/><stop offset="0.050" stop-color="#f33"/><stop offset="0.275" stop-color="#f00"/><stop offset="0.500" stop-color="#f00"/><stop offset="0.500" stop-color="#f00"/><stop offset="0.725" stop-color="#f00"/><stop offset="0.950" stop-color="#f33"/><stop offset="1.000" stop-color="#f77"/><stop offset="1.000" stop-color="#f99"/><stop offset="1.000" stop-color="#fbb"/></linearGradient>
<rect x="259.10" y="258.83" width="5.04" height="5.03" fill="url(#gR26)"/>
<rect x="259.10" y="258.83" width="5.04" height="5.03" fill="#fff" filter="url(#speck)" opacity="0.4"/>
<linearGradient id="gR27" x1="0" y1="1" x2="1" y2="0"><stop offset="0.000" stop-color="#f77"/><stop offset="0.000" stop-color="#f99"/><stop offset="0.000" stop-color="#fbb"/><stop offset="0.054" stop-color="#f33"/><stop offset="0.277" stop-color="#f00"/><stop offset="0.500" stop-color="#f00"/><stop offset="0.500" stop-color="#f00"/><stop offset="0.723" stop-color="#f00"/><stop offset="0.946" stop-color="#f33"/><stop offset="1.000" stop-color="#f77"/><stop offset="1.000" stop-color="#f99"/><stop offset="1.000" stop-color="#fbb"/></linearGradient>
<rect x="264.14" y="263.86" width="5.07" height="5.07" fill="url(#gR27)"/>
<rect x="264.14" y="263.86" width="5.07" height="5.07" fill="#fff" filter="url(#speck)" opacity="0.4"/>
<linearGradient id="gR28" x1="0" y1="1" x2="1" y2="0"><stop offset="0.000" stop-color="#f77"/><stop offset="0.000" stop-color="#f99"/><stop offset="0.000" stop-color="#fbb"/><stop offset="0.099" stop-color="#f33"/><stop offset="0.299" stop-color="#f00"/><stop offset="0.500" stop-color="#f00"/><stop offset="0.500" stop-color="#f00"/><stop offset="0.701" stop-color="#f00"/><stop offset="0.901" stop-color="#f33"/><stop offset="1.000" stop-color="#f77"/><stop offset="1.000" stop-color="#f99"/><stop offset="1.000" stop-color="#fbb"/></linearGradient>
<rect x="269.21" y="268.93" width="5.64" height="5.64" fill="url(#gR28)"/>
<rect x="269.21" y="268.93" width="5.64" height="5.64" fill="#fff" filter="url(#speck)" opacity="0.4"/>
<linearGradient id="gR29" x1="0" y1="1" x2="1" y2="0"><stop offset="0.000" stop-color="#fde8e8"/><stop offset="0.131" stop-color="#fdd"/><stop offset="0.270" stop-color="#fbb"/><stop offset="0.362" stop-color="#f55"/><stop offset="0.431" stop-color="#f00"/><stop offset="0.500" stop-color="#f00"/><stop offset="0.500" stop-color="#f00"/><stop offset="0.569" stop-color="#f00"/><stop offset="0.638" stop-color="#f55"/><stop offset="0.730" stop-color="#fbb"/><stop offset="0.869" stop-color="#fdd"/><stop offset="1.000" stop-color="#fde8e8"/></linearGradient>
<rect x="274.85" y="274.57" width="15.35" height="15.33" fill="url(#gR29)"/>
<rect x="274.85" y="274.57" width="15.35" height="15.33" fill="#fff" filter="url(#speck)" opacity="0.4"/>
<line x1="17.12" y1="0" x2="17.12" y2="289.90" stroke="#6a6565" stroke-width="1"/>
<line x1="0" y1="17.17" x2="290.20" y2="17.17" stroke="#6a6565" stroke-width="1"/>
<line x1="32.12" y1="0" x2="32.12" y2="289.90" stroke="#6a6565" stroke-width="1"/>
<line x1="0" y1="32.17" x2="290.20" y2="32.17" stroke="#6a6565" stroke-width="1"/>
<line x1="46.12" y1="0" x2="46.12" y2="289.90" stroke="#6a6565" stroke-width="1"/>
<line x1="0" y1="46.17" x2="290.20" y2="46.17" stroke="#6a6565" stroke-width="1"/>
<line x1="59.12" y1="0" x2="59.12" y2="289.90" stroke="#6a6565" stroke-width="1"/>
<line x1="0" y1="59.17" x2="290.20" y2="59.17" stroke="#6a6565" stroke-width="1"/>
<line x1="72.12" y1="0" x2="72.12" y2="289.90" stroke="#6a6565" stroke-width="1"/>
<line x1="0" y1="72.17" x2="290.20" y2="72.17" stroke="#6a6565" stroke-width="1"/>
<line x1="85.12" y1="0" x2="85.12" y2="289.90" stroke="#6a6565" stroke-width="1"/>
<line x1="0" y1="85.17" x2="290.20" y2="85.17" stroke="#6a6565" stroke-width="1"/>
<line x1="98.12" y1="0" x2="98.12" y2="289.90" stroke="#6a6565" stroke-width="1"/>
<line x1="0" y1="97.17" x2="290.20" y2="97.17" stroke="#6a6565" stroke-width="1"/>
<line x1="110.12" y1="0" x2="110.12" y2="289.90" stroke="#6a6565" stroke-width="1"/>
<line x1="0" y1="110.17" x2="290.20" y2="110.17" stroke="#6a6565" stroke-width="1"/>
<line x1="122.12" y1="0" x2="122.12" y2="289.90" stroke="#6a6565" stroke-width="1"/>
<line x1="0" y1="121.17" x2="290.20" y2="121.17" stroke="#6a6565" stroke-width="1"/>
<line x1="133.12" y1="0" x2="133.12" y2="289.90" stroke="#6a6565" stroke-width="1"/>
<line x1="0" y1="133.17" x2="290.20" y2="133.17" stroke="#6a6565" stroke-width="1"/>
<line x1="145.12" y1="0" x2="145.12" y2="289.90" stroke="#6a6565" stroke-width="1"/>
<line x1="0" y1="145.17" x2="290.20" y2="145.17" stroke="#6a6565" stroke-width="1"/>
<line x1="155.12" y1="0" x2="155.12" y2="289.90" stroke="#6a6565" stroke-width="1"/>
<line x1="0" y1="154.17" x2="290.20" y2="154.17" stroke="#6a6565" stroke-width="1"/>
<line x1="164.12" y1="0" x2="164.12" y2="289.90" stroke="#6a6565" stroke-width="1"/>
<line x1="0" y1="164.17" x2="290.20" y2="164.17" stroke="#6a6565" stroke-width="1"/>
<line x1="173.12" y1="0" x2="173.12" y2="289.90" stroke="#6a6565" stroke-width="1"/>
<line x1="0" y1="173.17" x2="290.20" y2="173.17" stroke="#6a6565" stroke-width="1"/>
<line x1="182.12" y1="0" x2="182.12" y2="289.90" stroke="#6a6565" stroke-width="1"/>
<line x1="0" y1="182.17" x2="290.20" y2="182.17" stroke="#6a6565" stroke-width="1"/>
<line x1="191.12" y1="0" x2="191.12" y2="289.90" stroke="#6a6565" stroke-width="1"/>
<line x1="0" y1="191.17" x2="290.20" y2="191.17" stroke="#6a6565" stroke-width="1"/>
<line x1="199.12" y1="0" x2="199.12" y2="289.90" stroke="#6a6565" stroke-width="1"/>
<line x1="0" y1="199.17" x2="290.20" y2="199.17" stroke="#6a6565" stroke-width="1"/>
<line x1="207.12" y1="0" x2="207.12" y2="289.90" stroke="#6a6565" stroke-width="1"/>
<line x1="0" y1="206.17" x2="290.20" y2="206.17" stroke="#6a6565" stroke-width="1"/>
<line x1="214.12" y1="0" x2="214.12" y2="289.90" stroke="#6a6565" stroke-width="1"/>
<line x1="0" y1="213.17" x2="290.20" y2="213.17" stroke="#6a6565" stroke-width="1"/>
<line x1="221.12" y1="0" x2="221.12" y2="289.90" stroke="#6a6565" stroke-width="1"/>
<line x1="0" y1="221.17" x2="290.20" y2="221.17" stroke="#6a6565" stroke-width="1"/>
<line x1="229.12" y1="0" x2="229.12" y2="289.90" stroke="#6a6565" stroke-width="1"/>
<line x1="0" y1="229.17" x2="290.20" y2="229.17" stroke="#6a6565" stroke-width="1"/>
<line x1="236.12" y1="0" x2="236.12" y2="289.90" stroke="#6a6565" stroke-width="1"/>
<line x1="0" y1="236.17" x2="290.20" y2="236.17" stroke="#6a6565" stroke-width="1"/>
<line x1="242.12" y1="0" x2="242.12" y2="289.90" stroke="#6a6565" stroke-width="1"/>
<line x1="0" y1="241.17" x2="290.20" y2="241.17" stroke="#6a6565" stroke-width="1"/>
<line x1="249.12" y1="0" x2="249.12" y2="289.90" stroke="#6a6565" stroke-width="1"/>
<line x1="0" y1="248.17" x2="290.20" y2="248.17" stroke="#6a6565" stroke-width="1"/>
<line x1="253.12" y1="0" x2="253.12" y2="289.90" stroke="#6a6565" stroke-width="1"/>
<line x1="0" y1="253.17" x2="290.20" y2="253.17" stroke="#6a6565" stroke-width="1"/>
<line x1="259.12" y1="0" x2="259.12" y2="289.90" stroke="#6a6565" stroke-width="1"/>
<line x1="0" y1="259.17" x2="290.20" y2="259.17" stroke="#6a6565" stroke-width="1"/>
<line x1="264.12" y1="0" x2="264.12" y2="289.90" stroke="#6a6565" stroke-width="1"/>
<line x1="0" y1="264.17" x2="290.20" y2="264.17" stroke="#6a6565" stroke-width="1"/>
<line x1="269.12" y1="0" x2="269.12" y2="289.90" stroke="#6a6565" stroke-width="1"/>
<line x1="0" y1="269.17" x2="290.20" y2="269.17" stroke="#6a6565" stroke-width="1"/>
<line x1="275.12" y1="0" x2="275.12" y2="289.90" stroke="#6a6565" stroke-width="1"/>
<line x1="0" y1="274.17" x2="290.20" y2="274.17" stroke="#6a6565" stroke-width="1"/>
<rect x="0" y="0" width="290.20" height="289.90" fill="none" stroke="#7a7676" stroke-width="1"/>
</g>
<text x="35.3" y="68.6" font-size="18">Chr 1</text>
<text x="326.2" y="68.6" font-size="18" text-anchor="end">Chr X</text>
<text x="413.4" y="69" font-size="18">Chr 1</text>
<text x="703.2" y="68.9" font-size="18" text-anchor="end">Chr X</text>
<text transform="translate(26.2,116.4) rotate(-90)" font-size="18">Chr 1</text>
<text transform="translate(26.1,366.8) rotate(-90)" font-size="18">Chr X</text>
<text transform="translate(404.2,116.2) rotate(-90)" font-size="18">Chr 1</text>
<text transform="translate(404.2,368.3) rotate(-90)" font-size="18">Chr X</text>
<line x1="43.3" y1="71.8" x2="43.3" y2="78.4" stroke="#333" stroke-width="1"/>
<line x1="317.6" y1="71.6" x2="317.6" y2="78.4" stroke="#333" stroke-width="1"/>
<line x1="29.2" y1="87.3" x2="35.6" y2="87.3" stroke="#333" stroke-width="1"/>
<line x1="29.2" y1="360" x2="35.6" y2="360" stroke="#333" stroke-width="1"/>
<line x1="422" y1="72" x2="422" y2="78.3" stroke="#333" stroke-width="1"/>
<line x1="694.4" y1="72" x2="694.4" y2="78.3" stroke="#333" stroke-width="1"/>
<line x1="407.3" y1="87.3" x2="413.7" y2="87.3" stroke="#333" stroke-width="1"/>
<line x1="407.3" y1="361.1" x2="413.7" y2="361.1" stroke="#333" stroke-width="1"/>
<line x1="116" y1="65.5" x2="236" y2="65.5" stroke="#111" stroke-width="1.7"/><path d="M234,60.5 L246,65.5 L234,70.5 Z" fill="#111"/>
<line x1="493.5" y1="65.5" x2="613" y2="65.5" stroke="#111" stroke-width="1.7"/><path d="M611,60.5 L623,65.5 L611,70.5 Z" fill="#111"/>
<line x1="21.9" y1="160.2" x2="21.9" y2="279.6" stroke="#111" stroke-width="1.7"/><path d="M16.9,277.6 L21.9,289.6 L26.9,277.6 Z" fill="#111"/>
<line x1="400" y1="160.2" x2="400" y2="279.6" stroke="#111" stroke-width="1.7"/><path d="M395,277.6 L400,289.6 L405,277.6 Z" fill="#111"/>
<defs><clipPath id="fclip"><path d="M130.6,16.1 C131.5,14.8 131.8,13.7 135.6,12.6 C139.4,11.5 148.3,10.5 153.2,9.8 C158.1,9.2 160.7,8.9 165.0,8.7 C169.3,8.5 174.6,8.6 179.1,8.7 C183.6,8.8 189.1,9.3 191.8,9.1 C194.5,8.9 194.0,7.8 195.4,7.3 C196.8,6.8 198.3,6.2 200.3,6.2 C202.3,6.2 205.4,6.6 207.4,7.6 C209.4,8.5 211.2,10.6 212.3,11.9 C213.4,13.2 213.7,14.0 213.7,15.4 C213.7,16.8 213.0,18.8 212.3,20.4 C211.6,22.0 210.3,23.9 209.5,25.3 C208.7,26.7 207.7,27.6 207.4,28.8 C207.1,30.0 207.9,31.4 207.7,32.4 C207.5,33.4 207.0,34.6 206.0,34.8 C205.0,35.0 203.0,34.6 201.7,33.8 C200.4,33.0 199.4,31.6 198.2,30.2 C197.0,28.8 195.8,26.6 194.7,25.3 C193.6,24.0 193.2,22.6 191.8,22.5 C190.4,22.4 188.0,23.6 186.2,24.6 C184.4,25.7 182.3,27.6 181.2,28.8 C180.1,30.0 179.8,30.3 179.8,31.7 C179.8,33.1 181.1,35.4 181.2,37.3 C181.3,39.2 181.2,41.2 180.5,43.0 C179.8,44.8 178.1,46.5 177.0,47.9 C175.9,49.3 174.8,51.1 173.8,51.6 C172.8,52.1 171.2,51.6 171.2,50.9 C171.1,50.2 172.7,48.8 173.5,47.2 C174.3,45.6 175.8,43.4 176.3,41.5 C176.8,39.6 177.4,37.2 176.7,36.0 C176.0,34.8 174.0,35.0 172.1,34.5 C170.2,34.0 167.0,33.5 165.0,33.1 C163.0,32.8 161.7,32.4 160.3,32.4 C158.9,32.4 157.5,32.5 156.8,33.4 C156.2,34.3 156.3,36.5 156.4,38.0 C156.5,39.5 156.0,40.9 157.5,42.3 C159.0,43.7 163.1,45.6 165.3,46.5 C167.5,47.4 169.9,46.9 170.9,47.6 C171.9,48.3 172.8,50.3 171.6,50.9 C170.4,51.5 166.6,51.4 163.8,51.0 C161.0,50.6 156.8,49.9 154.7,48.8 C152.6,47.7 151.8,46.1 151.1,44.4 C150.4,42.7 150.3,40.6 150.4,38.7 C150.5,36.8 152.2,34.3 151.8,33.1 C151.5,31.9 150.1,31.8 148.3,31.7 C146.5,31.6 143.1,31.7 141.2,32.4 C139.3,33.1 137.6,33.8 136.8,36.0 C136.0,38.2 137.0,43.1 136.6,45.8 C136.2,48.5 135.4,51.3 134.6,52.3 C133.8,53.3 132.1,53.6 131.8,51.8 C131.5,50.0 132.9,44.7 133.0,41.5 C133.1,38.3 132.5,35.1 132.2,32.4 C131.9,29.7 131.7,27.3 131.4,25.3 C131.1,23.3 130.4,21.9 130.3,20.4 C130.2,18.9 129.7,17.4 130.6,16.1 Z"/></clipPath><clipPath id="cclip"><path d="M512.7,16.3 C514.0,15.2 517.2,13.5 519.8,12.8 C522.4,12.1 525.2,12.0 528.2,12.1 C531.2,12.2 534.5,13.0 538.0,13.6 C541.5,14.2 546.1,15.3 549.4,15.6 C552.7,15.9 554.9,15.7 558.0,15.6 C561.1,15.5 565.2,15.8 567.8,15.2 C570.4,14.6 572.0,12.9 573.4,12.1 C574.8,11.3 575.5,10.5 576.3,10.4 C577.1,10.3 577.0,10.2 578.4,11.4 C579.8,12.6 582.5,15.8 584.7,17.7 C586.9,19.6 590.3,21.2 591.8,22.7 C593.2,24.2 593.9,25.7 593.4,26.6 C592.9,27.5 590.9,27.8 589.0,28.3 C587.1,28.8 584.0,28.9 581.9,29.7 C579.8,30.5 577.7,31.7 576.3,33.2 C574.9,34.7 574.8,36.8 573.4,38.9 C572.0,41.0 569.7,44.1 567.8,46.0 C565.9,47.9 563.3,48.7 562.1,50.2 C560.9,51.7 560.9,53.0 560.5,55.0 C560.1,57.0 560.5,61.1 559.8,62.3 C559.1,63.5 557.0,63.5 556.2,62.3 C555.5,61.1 555.7,57.7 555.3,55.0 C554.9,52.3 554.9,47.9 553.7,46.0 C552.5,44.1 549.9,44.3 548.0,43.8 C546.1,43.3 545.2,43.2 542.4,43.1 C539.6,43.0 533.6,43.3 531.0,43.1 C528.4,42.9 527.7,41.0 526.8,41.7 C525.9,42.4 525.9,45.2 525.6,47.4 C525.3,49.6 525.3,52.5 525.2,55.0 C525.1,57.5 525.6,61.1 525.0,62.3 C524.4,63.5 522.4,63.5 521.8,62.3 C521.2,61.1 521.4,56.8 521.3,55.0 C521.2,53.2 521.7,51.7 521.2,51.6 C520.8,51.5 518.9,53.3 518.6,54.4 C518.3,55.5 519.4,56.7 519.6,58.0 C519.8,59.3 520.5,61.6 520.0,62.3 C519.5,63.0 517.5,63.5 516.8,62.3 C516.1,61.1 516.2,57.5 516.0,55.0 C515.8,52.5 515.9,50.3 515.5,47.4 C515.1,44.5 513.9,40.3 513.4,37.5 C512.9,34.7 512.6,32.7 512.3,30.5 C512.0,28.3 511.7,26.3 511.6,24.5 C511.5,22.7 511.6,20.9 511.8,19.5 C512.0,18.1 511.4,17.4 512.7,16.3 Z"/></clipPath></defs>
<path d="M120,53.1 L226,53.6 L226,58.6 L120,58.3 Z" fill="#e6d8d8"/>
<g>
<rect x="124.0" y="54.6" width="2.2" height="2.2" fill="#d8929a" opacity="0.6"/>
<rect x="130.5" y="54.6" width="2.2" height="2.2" fill="#d8929a" opacity="0.6"/>
<rect x="137.0" y="54.6" width="2.2" height="2.2" fill="#d8929a" opacity="0.6"/>
<rect x="143.5" y="54.6" width="2.2" height="2.2" fill="#d8929a" opacity="0.6"/>
<rect x="150.0" y="54.6" width="2.2" height="2.2" fill="#d8929a" opacity="0.6"/>
<rect x="156.5" y="54.6" width="2.2" height="2.2" fill="#d8929a" opacity="0.6"/>
<rect x="163.0" y="54.6" width="2.2" height="2.2" fill="#d8929a" opacity="0.6"/>
<rect x="169.5" y="54.6" width="2.2" height="2.2" fill="#d8929a" opacity="0.6"/>
<rect x="176.0" y="54.6" width="2.2" height="2.2" fill="#d8929a" opacity="0.6"/>
<rect x="182.5" y="54.6" width="2.2" height="2.2" fill="#d8929a" opacity="0.6"/>
<rect x="189.0" y="54.6" width="2.2" height="2.2" fill="#d8929a" opacity="0.6"/>
<rect x="195.5" y="54.6" width="2.2" height="2.2" fill="#d8929a" opacity="0.6"/>
<rect x="202.0" y="54.6" width="2.2" height="2.2" fill="#d8929a" opacity="0.6"/>
<rect x="208.5" y="54.6" width="2.2" height="2.2" fill="#d8929a" opacity="0.6"/>
<rect x="215.0" y="54.6" width="2.2" height="2.2" fill="#d8929a" opacity="0.6"/>
<rect x="221.5" y="54.6" width="2.2" height="2.2" fill="#d8929a" opacity="0.6"/>
</g>
<g clip-path="url(#fclip)"><rect x="125" y="0" width="95" height="56" fill="#f1cbc6"/>
<ellipse cx="154" cy="24" rx="12" ry="9" fill="#cdbac8" opacity="0.8" filter="url(#b2)"/>
<ellipse cx="140" cy="22" rx="5" ry="7" fill="#f7dad6" opacity="0.8" filter="url(#b2)"/>
<ellipse cx="188" cy="20" rx="5" ry="6" fill="#f7dcd8" opacity="0.8" filter="url(#b2)"/>
<ellipse cx="170" cy="15" rx="14" ry="4" fill="#f8dcd8" opacity="0.7" filter="url(#b2)"/>
<ellipse cx="200" cy="14" rx="6" ry="5" fill="#f8dcd8" opacity="0.7" filter="url(#b2)"/>
<ellipse cx="162" cy="47.5" rx="8" ry="3.5" fill="#c4aeae" opacity="0.9" filter="url(#b1)"/>
<path d="M156,40 C157,44 161,47.5 167,48 L167,45 C163,44 159.5,42 158,39.5 Z" fill="#a81a30" opacity="0.9" filter="url(#b1)"/>
<ellipse cx="134.5" cy="43" rx="3" ry="8" fill="#e0bcbc" opacity="0.7"/>
</g>
<ellipse cx="203.1" cy="21.4" rx="2.4" ry="2" fill="#a898b0" opacity="0.8" filter="url(#b1)"/>
<g clip-path="url(#cclip)"><rect x="500" y="5" width="100" height="62" fill="#a4643f"/>
<ellipse cx="540" cy="24" rx="25" ry="8" fill="#b0714b" opacity="0.7" filter="url(#b2)"/>
<ellipse cx="568" cy="38" rx="7" ry="10" fill="#874a2c" opacity="0.6" filter="url(#b2)"/>
<ellipse cx="522" cy="52" rx="6" ry="9" fill="#8e5433" opacity="0.6" filter="url(#b2)"/>
<ellipse cx="586" cy="24" rx="7" ry="5" fill="#9a5c3a" opacity="0.6" filter="url(#b2)"/>
</g>
<ellipse cx="577.2" cy="13.2" rx="1.3" ry="1.9" fill="#ecd2c2"/>
<path d="M512.5,19 C510.5,22 508.5,26 507,30.5" fill="none" stroke="#a5643f" stroke-width="1.6" stroke-linecap="round"/>
<text transform="translate(2.7,422.6) scale(0.91,1)" font-size="30.6">B</text>
<text x="57" y="430.2" font-size="18.3">Log<tspan font-size="12" dy="1.5">2</tspan><tspan dy="-1.5">(normalized contact frequency)</tspan></text>
<defs><clipPath id="clipB"><rect x="51" y="438" width="273.5" height="277"/></clipPath>
<linearGradient id="bandG" gradientUnits="userSpaceOnUse" x1="180" y1="585" x2="288" y2="474"><stop offset="0" stop-color="#a2c9e5"/><stop offset="0.45" stop-color="#c1d9ee"/><stop offset="1" stop-color="#dceaf6"/></linearGradient>
<filter id="b3" x="-50%" y="-50%" width="200%" height="200%"><feGaussianBlur stdDeviation="3"/></filter>
<filter id="b6" x="-50%" y="-50%" width="200%" height="200%"><feGaussianBlur stdDeviation="6"/></filter>
<filter id="b12" x="-50%" y="-50%" width="200%" height="200%"><feGaussianBlur stdDeviation="12"/></filter>
</defs>
<g clip-path="url(#clipB)">
<ellipse cx="197" cy="574" rx="125" ry="60" transform="rotate(-47 197 574)" fill="#f4f8fc" filter="url(#b12)"/>
<ellipse cx="180" cy="640" rx="50" ry="32" fill="#f6f9fd" filter="url(#b12)"/>
<ellipse cx="146" cy="619" rx="22" ry="8" transform="rotate(-22 146 619)" fill="#e9f1fa" filter="url(#b6)"/>
<linearGradient id="coreG" x1="0" y1="0" x2="0" y2="1"><stop offset="0" stop-color="#b2d3ea"/><stop offset="0.35" stop-color="#8fc0e2"/><stop offset="1" stop-color="#78b2da"/></linearGradient>
<path d="M163,560 L170,552 L197,534 L235,513 L262,492 L279,471 L289,477 L276,492 L257,513 L234,534 L218,555 L207,572 L200,594 L186,599 L163,604 Z" fill="url(#bandG)" filter="url(#b4)"/>
<ellipse cx="284" cy="475" rx="6.5" ry="4" transform="rotate(-45 284 475)" fill="#cfe2f2" filter="url(#b2)"/>
<path d="M161.5,605 L161.5,560 L168,550 L183,544 L198,553 L204,574 L200,598 L185,603 Z" fill="url(#coreG)" filter="url(#b3)"/>
<ellipse cx="168" cy="582" rx="5" ry="18" fill="#4b93cb" filter="url(#b3)"/>
<ellipse cx="182.5" cy="584" rx="4.5" ry="16" fill="#5a9dd0" filter="url(#b3)"/>
<ellipse cx="195" cy="586" rx="3.5" ry="12" fill="#72aed8" filter="url(#b3)"/>
<ellipse cx="171" cy="591" rx="7" ry="8" fill="#3580bf" filter="url(#b3)"/>
<ellipse cx="169" cy="598.5" rx="10" ry="6.5" transform="rotate(-40 169 598.5)" fill="#2a6caf" filter="url(#b2)"/>
<ellipse cx="168" cy="598.5" rx="6.5" ry="3.8" transform="rotate(-40 168 598.5)" fill="#08306b" filter="url(#b1)"/>
<ellipse cx="181" cy="598" rx="4" ry="3" fill="#3e86c2" filter="url(#b1)"/>
</g>
<circle cx="152.9" cy="460.3" r="0.85" fill="#1a1a1a"/>
<circle cx="145.1" cy="473.9" r="0.85" fill="#1a1a1a"/>
<circle cx="146.2" cy="474.5" r="0.85" fill="#1a1a1a"/>
<circle cx="205.3" cy="473.1" r="0.85" fill="#1a1a1a"/>
<circle cx="235.6" cy="466.0" r="0.85" fill="#1a1a1a"/>
<circle cx="239.5" cy="470.0" r="0.85" fill="#1a1a1a"/>
<circle cx="244.2" cy="467.3" r="0.85" fill="#1a1a1a"/>
<circle cx="276.4" cy="461.5" r="0.85" fill="#1a1a1a"/>
<circle cx="315.4" cy="447.6" r="0.85" fill="#1a1a1a"/>
<circle cx="312.1" cy="449.4" r="0.85" fill="#1a1a1a"/>
<circle cx="307.0" cy="457.6" r="0.85" fill="#1a1a1a"/>
<circle cx="191.7" cy="485.5" r="0.85" fill="#1a1a1a"/>
<circle cx="194.4" cy="483.6" r="0.85" fill="#1a1a1a"/>
<circle cx="199.5" cy="489.4" r="0.85" fill="#1a1a1a"/>
<circle cx="203.4" cy="483.6" r="0.85" fill="#1a1a1a"/>
<circle cx="205.3" cy="484.4" r="0.85" fill="#1a1a1a"/>
<circle cx="222.8" cy="487.5" r="0.85" fill="#1a1a1a"/>
<circle cx="228.6" cy="484.4" r="0.85" fill="#1a1a1a"/>
<circle cx="232.5" cy="481.7" r="0.85" fill="#1a1a1a"/>
<circle cx="236.4" cy="480.5" r="0.85" fill="#1a1a1a"/>
<circle cx="239.5" cy="484.4" r="0.85" fill="#1a1a1a"/>
<circle cx="242.6" cy="485.5" r="0.85" fill="#1a1a1a"/>
<circle cx="246.9" cy="477.0" r="0.85" fill="#1a1a1a"/>
<circle cx="218.2" cy="495.3" r="0.85" fill="#1a1a1a"/>
<circle cx="213.1" cy="497.2" r="0.85" fill="#1a1a1a"/>
<circle cx="206.9" cy="500.3" r="0.85" fill="#1a1a1a"/>
<circle cx="176.2" cy="496.4" r="0.85" fill="#1a1a1a"/>
<circle cx="194.9" cy="506.9" r="0.85" fill="#1a1a1a"/>
<circle cx="158.0" cy="506.0" r="0.85" fill="#1a1a1a"/>
<circle cx="152.9" cy="516.6" r="0.85" fill="#1a1a1a"/>
<circle cx="133.5" cy="518.6" r="0.85" fill="#1a1a1a"/>
<circle cx="175.0" cy="518.6" r="0.85" fill="#1a1a1a"/>
<circle cx="138.5" cy="526.3" r="0.85" fill="#1a1a1a"/>
<circle cx="137.8" cy="529.0" r="0.85" fill="#1a1a1a"/>
<circle cx="295.4" cy="482.8" r="0.85" fill="#1a1a1a"/>
<circle cx="290.8" cy="493.3" r="0.85" fill="#1a1a1a"/>
<circle cx="293.9" cy="493.7" r="0.85" fill="#1a1a1a"/>
<circle cx="284.2" cy="506.1" r="0.85" fill="#1a1a1a"/>
<circle cx="267.5" cy="521.3" r="0.85" fill="#1a1a1a"/>
<circle cx="257.8" cy="529.0" r="0.85" fill="#1a1a1a"/>
<circle cx="108.3" cy="539.9" r="0.85" fill="#1a1a1a"/>
<circle cx="100.5" cy="544.6" r="0.85" fill="#1a1a1a"/>
<circle cx="93.9" cy="554.7" r="0.85" fill="#1a1a1a"/>
<circle cx="88.8" cy="556.6" r="0.85" fill="#1a1a1a"/>
<circle cx="250.4" cy="552.3" r="0.85" fill="#1a1a1a"/>
<circle cx="246.5" cy="558.2" r="0.85" fill="#1a1a1a"/>
<circle cx="246.1" cy="563.2" r="0.85" fill="#1a1a1a"/>
<circle cx="240.3" cy="567.8" r="0.85" fill="#1a1a1a"/>
<circle cx="260.9" cy="562.1" r="0.85" fill="#1a1a1a"/>
<circle cx="262.4" cy="561.3" r="0.85" fill="#1a1a1a"/>
<circle cx="267.5" cy="562.1" r="0.85" fill="#1a1a1a"/>
<circle cx="71.4" cy="582.6" r="0.85" fill="#1a1a1a"/>
<circle cx="65.5" cy="588.5" r="0.85" fill="#1a1a1a"/>
<circle cx="88.0" cy="586.5" r="0.85" fill="#1a1a1a"/>
<circle cx="86.1" cy="595.4" r="0.85" fill="#1a1a1a"/>
<circle cx="86.9" cy="599.0" r="0.85" fill="#1a1a1a"/>
<circle cx="61.6" cy="607.0" r="0.85" fill="#1a1a1a"/>
<circle cx="65.5" cy="607.0" r="0.85" fill="#1a1a1a"/>
<circle cx="73.3" cy="607.0" r="0.85" fill="#1a1a1a"/>
<circle cx="78.3" cy="607.0" r="0.85" fill="#1a1a1a"/>
<circle cx="85.7" cy="607.8" r="0.85" fill="#1a1a1a"/>
<circle cx="63.6" cy="611.8" r="0.85" fill="#1a1a1a"/>
<circle cx="68.6" cy="615.6" r="0.85" fill="#1a1a1a"/>
<circle cx="74.1" cy="616.8" r="0.85" fill="#1a1a1a"/>
<circle cx="62.4" cy="621.5" r="0.85" fill="#1a1a1a"/>
<circle cx="93.9" cy="615.6" r="0.85" fill="#1a1a1a"/>
<circle cx="94.7" cy="618.4" r="0.85" fill="#1a1a1a"/>
<circle cx="236.4" cy="590.4" r="0.85" fill="#1a1a1a"/>
<circle cx="231.4" cy="604.8" r="0.85" fill="#1a1a1a"/>
<circle cx="224.8" cy="613.7" r="0.85" fill="#1a1a1a"/>
<circle cx="223.2" cy="617.6" r="0.85" fill="#1a1a1a"/>
<circle cx="222.0" cy="619.5" r="0.85" fill="#1a1a1a"/>
<circle cx="283.0" cy="607.9" r="0.85" fill="#1a1a1a"/>
<circle cx="285.7" cy="609.9" r="0.85" fill="#1a1a1a"/>
<circle cx="96.6" cy="636.2" r="0.85" fill="#1a1a1a"/>
<circle cx="100.5" cy="650.6" r="0.85" fill="#1a1a1a"/>
<circle cx="101.7" cy="653.3" r="0.85" fill="#1a1a1a"/>
<circle cx="217.0" cy="637.0" r="0.85" fill="#1a1a1a"/>
<circle cx="212.3" cy="645.5" r="0.85" fill="#1a1a1a"/>
<circle cx="210.0" cy="648.6" r="0.85" fill="#1a1a1a"/>
<circle cx="215.0" cy="646.7" r="0.85" fill="#1a1a1a"/>
<circle cx="205.3" cy="663.4" r="0.85" fill="#1a1a1a"/>
<circle cx="126.1" cy="668.5" r="0.85" fill="#1a1a1a"/>
<circle cx="151.0" cy="659.5" r="0.85" fill="#1a1a1a"/>
<circle cx="154.9" cy="659.5" r="0.85" fill="#1a1a1a"/>
<circle cx="160.7" cy="659.5" r="0.85" fill="#1a1a1a"/>
<circle cx="155.6" cy="665.3" r="0.85" fill="#1a1a1a"/>
<circle cx="145.1" cy="673.1" r="0.85" fill="#1a1a1a"/>
<circle cx="159.9" cy="672.0" r="0.85" fill="#1a1a1a"/>
<circle cx="154.1" cy="675.8" r="0.85" fill="#1a1a1a"/>
<circle cx="172.3" cy="675.8" r="0.85" fill="#1a1a1a"/>
<circle cx="174.2" cy="680.5" r="0.85" fill="#1a1a1a"/>
<circle cx="162.6" cy="680.5" r="0.85" fill="#1a1a1a"/>
<circle cx="136.2" cy="693.3" r="0.85" fill="#1a1a1a"/>
<circle cx="154.1" cy="687.5" r="0.85" fill="#1a1a1a"/>
<circle cx="165.7" cy="705.0" r="0.85" fill="#1a1a1a"/>
<rect x="50.8" y="437.3" width="274.6" height="278.3" fill="none" stroke="#6a6a6a" stroke-width="1.25"/>
<text x="57.8" y="456.1" font-size="18">Pearson <tspan font-style="italic">r</tspan> = 0.93</text>
<line x1="44" y1="476.3" x2="50.8" y2="476.3" stroke="#444" stroke-width="1.1"/>
<text x="40.6" y="482.2" font-size="18" text-anchor="end">10</text>
<line x1="44" y1="537.0" x2="50.8" y2="537.0" stroke="#444" stroke-width="1.1"/>
<text x="40.6" y="542.9" font-size="18" text-anchor="end">5</text>
<line x1="44" y1="597.8" x2="50.8" y2="597.8" stroke="#444" stroke-width="1.1"/>
<text x="40.6" y="603.7" font-size="18" text-anchor="end">0</text>
<line x1="44" y1="658.5" x2="50.8" y2="658.5" stroke="#444" stroke-width="1.1"/>
<text x="40.6" y="664.4" font-size="18" text-anchor="end">-5</text>
<line x1="107.5" y1="715.6" x2="107.5" y2="723.3" stroke="#444" stroke-width="1.1"/>
<text x="106.1" y="741.6" font-size="18" text-anchor="middle">-5</text>
<line x1="169.0" y1="715.6" x2="169.0" y2="723.3" stroke="#444" stroke-width="1.1"/>
<text x="168.5" y="741.6" font-size="18" text-anchor="middle">0</text>
<line x1="230.5" y1="715.6" x2="230.5" y2="723.3" stroke="#444" stroke-width="1.1"/>
<text x="230.0" y="741.6" font-size="18" text-anchor="middle">5</text>
<line x1="292.0" y1="715.6" x2="292.0" y2="723.3" stroke="#444" stroke-width="1.1"/>
<text x="291.5" y="741.6" font-size="18" text-anchor="middle">10</text>
<text x="177.3" y="759.3" font-size="18">CAM</text>
<text transform="translate(17.6,581) rotate(-90)" font-size="18">CFM</text>
<text transform="translate(366.5,422.7) scale(0.88,1)" font-size="32.3">C</text>
<text x="484.5" y="430.5" font-size="18.6">Resolution statistics</text>
<line x1="430.2" y1="709.5" x2="703.7" y2="709.5" stroke="#555" stroke-width="1.2"/>
<line x1="430.2" y1="454.0" x2="430.2" y2="709.5" stroke="#555" stroke-width="1.2"/>
<line x1="430.2" y1="505.1" x2="702" y2="505.1" stroke="#bbb" stroke-width="1" stroke-dasharray="4,3"/>
<line x1="422.6" y1="454.0" x2="430.2" y2="454.0" stroke="#555" stroke-width="1.2"/>
<text x="417.8" y="461.1" font-size="18" text-anchor="end">100</text>
<line x1="422.6" y1="505.1" x2="430.2" y2="505.1" stroke="#555" stroke-width="1.2"/>
<text x="417.8" y="512.2" font-size="18" text-anchor="end">80</text>
<line x1="422.6" y1="556.2" x2="430.2" y2="556.2" stroke="#555" stroke-width="1.2"/>
<text x="417.8" y="563.3" font-size="18" text-anchor="end">60</text>
<line x1="422.6" y1="607.3" x2="430.2" y2="607.3" stroke="#555" stroke-width="1.2"/>
<text x="417.8" y="614.4" font-size="18" text-anchor="end">40</text>
<line x1="422.6" y1="658.4" x2="430.2" y2="658.4" stroke="#555" stroke-width="1.2"/>
<text x="417.8" y="665.5" font-size="18" text-anchor="end">20</text>
<line x1="422.6" y1="709.5" x2="430.2" y2="709.5" stroke="#555" stroke-width="1.2"/>
<text x="419.8" y="717.8" font-size="18" text-anchor="end">0.0</text>
<rect x="436.60" y="544.70" width="7.2" height="164.80" fill="#00b0f0"/>
<rect x="447.10" y="629.02" width="7.2" height="80.48" fill="#ffc000"/>
<line x1="445.30" y1="709.5" x2="445.30" y2="716.8" stroke="#555" stroke-width="1.2"/>
<text transform="translate(436.80,731) rotate(45)" font-size="17.5">2 kb</text>
<rect x="471.24" y="491.05" width="7.2" height="218.45" fill="#00b0f0"/>
<rect x="481.74" y="528.10" width="7.2" height="181.41" fill="#ffc000"/>
<line x1="479.94" y1="709.5" x2="479.94" y2="716.8" stroke="#555" stroke-width="1.2"/>
<text transform="translate(471.44,731) rotate(45)" font-size="17.5">5 kb</text>
<rect x="505.88" y="483.13" width="7.2" height="226.37" fill="#00b0f0"/>
<rect x="516.38" y="489.77" width="7.2" height="219.73" fill="#ffc000"/>
<line x1="514.58" y1="709.5" x2="514.58" y2="716.8" stroke="#555" stroke-width="1.2"/>
<text transform="translate(506.08,731) rotate(45)" font-size="17.5">10 kb</text>
<rect x="540.52" y="476.23" width="7.2" height="233.27" fill="#00b0f0"/>
<rect x="551.02" y="481.85" width="7.2" height="227.65" fill="#ffc000"/>
<line x1="549.22" y1="709.5" x2="549.22" y2="716.8" stroke="#555" stroke-width="1.2"/>
<text transform="translate(540.72,731) rotate(45)" font-size="17.5">20 kb</text>
<rect x="575.16" y="468.31" width="7.2" height="241.19" fill="#00b0f0"/>
<rect x="585.66" y="475.46" width="7.2" height="234.04" fill="#ffc000"/>
<line x1="583.86" y1="709.5" x2="583.86" y2="716.8" stroke="#555" stroke-width="1.2"/>
<text transform="translate(575.36,731) rotate(45)" font-size="17.5">40 kb</text>
<rect x="609.80" y="456.81" width="7.2" height="252.69" fill="#00b0f0"/>
<rect x="620.30" y="467.03" width="7.2" height="242.47" fill="#ffc000"/>
<line x1="618.50" y1="709.5" x2="618.50" y2="716.8" stroke="#555" stroke-width="1.2"/>
<text transform="translate(610.00,731) rotate(45)" font-size="17.5">100 kb</text>
<rect x="644.44" y="454.00" width="7.2" height="255.50" fill="#00b0f0"/>
<rect x="654.94" y="456.04" width="7.2" height="253.46" fill="#ffc000"/>
<line x1="653.14" y1="709.5" x2="653.14" y2="716.8" stroke="#555" stroke-width="1.2"/>
<text transform="translate(644.64,731) rotate(45)" font-size="17.5">500 kb</text>
<rect x="679.08" y="454.00" width="7.2" height="255.50" fill="#00b0f0"/>
<rect x="689.58" y="454.00" width="7.2" height="255.50" fill="#ffc000"/>
<line x1="687.78" y1="709.5" x2="687.78" y2="716.8" stroke="#555" stroke-width="1.2"/>
<text transform="translate(679.28,731) rotate(45)" font-size="17.5">1Mb</text>
<rect x="437" y="453.6" width="10" height="4.2" fill="#00b0f0"/>
<rect x="437" y="474.2" width="10" height="4.2" fill="#ffc000"/>
<text transform="translate(454.6,460.9) scale(0.92,1)" font-size="14.3">CFM</text>
<text transform="translate(454.6,480.2) scale(0.92,1)" font-size="14.3">CAM</text>
<text transform="translate(389.4,620.6) rotate(-90)" font-size="18.7">Percent, %</text>
</svg></body></html>
